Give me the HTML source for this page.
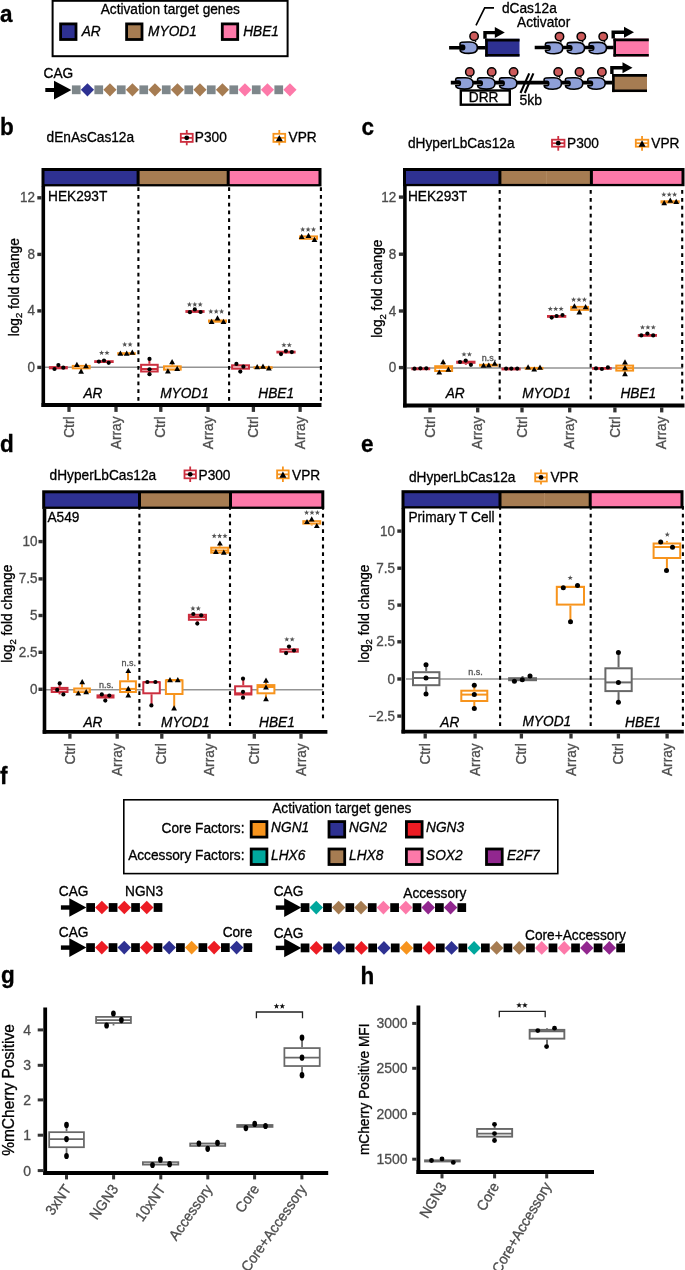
<!DOCTYPE html>
<html><head><meta charset="utf-8"><style>
html,body{margin:0;padding:0;background:#fff;overflow:hidden;}
svg{display:block;will-change:transform;}
text{font-family:"Liberation Sans", sans-serif;}
</style></head><body>
<svg width="685" height="1270" viewBox="0 0 685 1270">
<rect x="0" y="0" width="685" height="1270" fill="#fff"/>
<text transform="translate(0.00,21.50) scale(1,1.05)" font-size="22.5" text-anchor="start" fill="#000" stroke="#000" stroke-width="0.3" font-weight="bold" font-style="normal" >a</text>
<rect x="52.60" y="0.80" width="235.00" height="55.40" fill="none" stroke="#000" stroke-width="2" />
<text transform="translate(100.70,14.30) scale(1,1.05)" font-size="13.7" text-anchor="start" fill="#000" stroke="#000" stroke-width="0.3" font-weight="normal" font-style="normal" >Activation target genes</text>
<rect x="60.60" y="23.90" width="15.40" height="15.60" fill="#2e3192" stroke="#000" stroke-width="2.8" />
<text transform="translate(81.70,35.80) scale(1,1.05)" font-size="13.7" text-anchor="start" fill="#000" stroke="#000" stroke-width="0.3" font-weight="normal" font-style="italic" >AR</text>
<rect x="126.60" y="23.90" width="15.40" height="15.60" fill="#a67c52" stroke="#000" stroke-width="2.8" />
<text transform="translate(148.10,35.80) scale(1,1.05)" font-size="13.7" text-anchor="start" fill="#000" stroke="#000" stroke-width="0.3" font-weight="normal" font-style="italic" >MYOD1</text>
<rect x="222.30" y="23.90" width="15.40" height="15.60" fill="#fd79a9" stroke="#000" stroke-width="2.8" />
<text transform="translate(243.20,35.80) scale(1,1.05)" font-size="13.7" text-anchor="start" fill="#000" stroke="#000" stroke-width="0.3" font-weight="normal" font-style="italic" >HBE1</text>
<text transform="translate(43.50,77.50) scale(1,1.05)" font-size="13.7" text-anchor="start" fill="#000" stroke="#000" stroke-width="0.3" font-weight="normal" font-style="normal" >CAG</text>
<rect x="45.30" y="88.00" width="11.00" height="4.00" fill="#000" stroke="none" stroke-width="0" />
<path d="M54,80.7 L71.4,90 L54,99.4 Z" fill="#000"/>
<rect x="71.90" y="85.40" width="8.70" height="8.80" fill="#7e878b" stroke="none" stroke-width="0" />
<path d="M80.85,89.80 L87.45,83.20 L94.05,89.80 L87.45,96.40 Z" fill="#2e3192"/>
<rect x="94.40" y="85.40" width="8.70" height="8.80" fill="#7e878b" stroke="none" stroke-width="0" />
<path d="M103.35,89.80 L109.95,83.20 L116.55,89.80 L109.95,96.40 Z" fill="#a67c52"/>
<rect x="116.90" y="85.40" width="8.70" height="8.80" fill="#7e878b" stroke="none" stroke-width="0" />
<path d="M125.85,89.80 L132.45,83.20 L139.05,89.80 L132.45,96.40 Z" fill="#a67c52"/>
<rect x="139.40" y="85.40" width="8.70" height="8.80" fill="#7e878b" stroke="none" stroke-width="0" />
<path d="M148.35,89.80 L154.95,83.20 L161.55,89.80 L154.95,96.40 Z" fill="#a67c52"/>
<rect x="161.90" y="85.40" width="8.70" height="8.80" fill="#7e878b" stroke="none" stroke-width="0" />
<path d="M170.85,89.80 L177.45,83.20 L184.05,89.80 L177.45,96.40 Z" fill="#a67c52"/>
<rect x="184.40" y="85.40" width="8.70" height="8.80" fill="#7e878b" stroke="none" stroke-width="0" />
<path d="M193.35,89.80 L199.95,83.20 L206.55,89.80 L199.95,96.40 Z" fill="#a67c52"/>
<rect x="206.90" y="85.40" width="8.70" height="8.80" fill="#7e878b" stroke="none" stroke-width="0" />
<path d="M215.85,89.80 L222.45,83.20 L229.05,89.80 L222.45,96.40 Z" fill="#a67c52"/>
<rect x="229.40" y="85.40" width="8.70" height="8.80" fill="#7e878b" stroke="none" stroke-width="0" />
<path d="M238.35,89.80 L244.95,83.20 L251.55,89.80 L244.95,96.40 Z" fill="#fd79a9"/>
<rect x="251.90" y="85.40" width="8.70" height="8.80" fill="#7e878b" stroke="none" stroke-width="0" />
<path d="M260.85,89.80 L267.45,83.20 L274.05,89.80 L267.45,96.40 Z" fill="#fd79a9"/>
<rect x="274.40" y="85.40" width="8.70" height="8.80" fill="#7e878b" stroke="none" stroke-width="0" />
<path d="M283.35,89.80 L289.95,83.20 L296.55,89.80 L289.95,96.40 Z" fill="#fd79a9"/>
<text transform="translate(502.00,12.60) scale(1,1.05)" font-size="13.7" text-anchor="start" fill="#000" stroke="#000" stroke-width="0.3" font-weight="normal" font-style="normal" >dCas12a</text>
<text transform="translate(517.00,26.60) scale(1,1.05)" font-size="13.7" text-anchor="start" fill="#000" stroke="#000" stroke-width="0.3" font-weight="normal" font-style="normal" >Activator</text>
<path d="M476,25.4 L484.7,7.9 L494,7.9" fill="none" stroke="#000" stroke-width="1.6"/>
<line x1="449.10" y1="47.70" x2="486.00" y2="47.70" stroke="#000" stroke-width="3.6" />
<path d="M474.30,38.20 L475.80,42.00" stroke="#000" stroke-width="1.4" fill="none"/>
<circle cx="474.10" cy="36.20" r="4.2" fill="#cc5a5a" stroke="#000" stroke-width="1.5"/>
<path d="M460.00,43.80 C460.00,41.80 462.80,42.00 469.80,42.00 C475.80,42.00 477.40,44.70 477.40,47.70 C477.40,51.70 473.80,53.40 468.80,53.40 C462.80,53.40 460.00,52.20 460.00,49.80 L463.00,49.80 C465.20,49.80 465.20,45.40 463.00,45.40 L460.00,45.40 Z" fill="#8e9fd7" stroke="#000" stroke-width="1.6" stroke-linejoin="round"/>
<rect x="485.30" y="38.80" width="34.20" height="17.70" fill="#2e3192" stroke="none" stroke-width="0" />
<line x1="485.30" y1="40.10" x2="519.50" y2="40.10" stroke="#000" stroke-width="2.6" />
<line x1="485.30" y1="55.20" x2="519.50" y2="55.20" stroke="#000" stroke-width="2.6" />
<line x1="486.50" y1="38.80" x2="486.50" y2="56.50" stroke="#000" stroke-width="2.6" />
<path d="M485.00,38.80 L485.00,32.60 L495.30,32.60" fill="none" stroke="#000" stroke-width="3.4"/>
<path d="M494.80,27.10 L504.80,32.60 L494.80,38.10 Z" fill="#000"/>
<line x1="534.70" y1="47.50" x2="614.00" y2="47.50" stroke="#000" stroke-width="3.6" />
<path d="M559.70,38.60 L561.20,42.40" stroke="#000" stroke-width="1.4" fill="none"/>
<circle cx="559.50" cy="36.60" r="4.2" fill="#cc5a5a" stroke="#000" stroke-width="1.5"/>
<path d="M545.40,44.20 C545.40,42.20 548.20,42.40 555.20,42.40 C561.20,42.40 562.80,45.10 562.80,48.10 C562.80,52.10 559.20,53.80 554.20,53.80 C548.20,53.80 545.40,52.60 545.40,50.20 L548.40,50.20 C550.60,50.20 550.60,45.80 548.40,45.80 L545.40,45.80 Z" fill="#8e9fd7" stroke="#000" stroke-width="1.6" stroke-linejoin="round"/>
<path d="M581.50,38.60 L583.00,42.40" stroke="#000" stroke-width="1.4" fill="none"/>
<circle cx="581.30" cy="36.60" r="4.2" fill="#cc5a5a" stroke="#000" stroke-width="1.5"/>
<path d="M567.20,44.20 C567.20,42.20 570.00,42.40 577.00,42.40 C583.00,42.40 584.60,45.10 584.60,48.10 C584.60,52.10 581.00,53.80 576.00,53.80 C570.00,53.80 567.20,52.60 567.20,50.20 L570.20,50.20 C572.40,50.20 572.40,45.80 570.20,45.80 L567.20,45.80 Z" fill="#8e9fd7" stroke="#000" stroke-width="1.6" stroke-linejoin="round"/>
<path d="M603.40,38.60 L604.90,42.40" stroke="#000" stroke-width="1.4" fill="none"/>
<circle cx="603.20" cy="36.60" r="4.2" fill="#cc5a5a" stroke="#000" stroke-width="1.5"/>
<path d="M589.10,44.20 C589.10,42.20 591.90,42.40 598.90,42.40 C604.90,42.40 606.50,45.10 606.50,48.10 C606.50,52.10 602.90,53.80 597.90,53.80 C591.90,53.80 589.10,52.60 589.10,50.20 L592.10,50.20 C594.30,50.20 594.30,45.80 592.10,45.80 L589.10,45.80 Z" fill="#8e9fd7" stroke="#000" stroke-width="1.6" stroke-linejoin="round"/>
<rect x="613.50" y="38.60" width="35.30" height="18.00" fill="#fd79a9" stroke="none" stroke-width="0" />
<line x1="613.50" y1="39.90" x2="648.80" y2="39.90" stroke="#000" stroke-width="2.6" />
<line x1="613.50" y1="55.30" x2="648.80" y2="55.30" stroke="#000" stroke-width="2.6" />
<line x1="614.70" y1="38.60" x2="614.70" y2="56.60" stroke="#000" stroke-width="2.6" />
<path d="M613.20,38.60 L613.20,32.20 L624.50,32.20" fill="none" stroke="#000" stroke-width="3.4"/>
<path d="M624.00,26.70 L634.00,32.20 L624.00,37.70 Z" fill="#000"/>
<line x1="450.80" y1="82.60" x2="613.00" y2="82.60" stroke="#000" stroke-width="3.6" />
<line x1="520.50" y1="93.00" x2="529.20" y2="73.40" stroke="#000" stroke-width="2.1" />
<line x1="524.80" y1="93.00" x2="533.40" y2="73.40" stroke="#000" stroke-width="2.1" />
<rect x="460.80" y="90.50" width="49.00" height="14.20" fill="#fff" stroke="#000" stroke-width="2.4" />
<text transform="translate(483.60,101.90) scale(1,1.05)" font-size="13.7" text-anchor="middle" fill="#000" stroke="#000" stroke-width="0.3" font-weight="normal" font-style="normal" >DRR</text>
<path d="M470.00,73.90 L471.50,77.70" stroke="#000" stroke-width="1.4" fill="none"/>
<circle cx="469.80" cy="71.90" r="4.2" fill="#cc5a5a" stroke="#000" stroke-width="1.5"/>
<path d="M455.70,79.50 C455.70,77.50 458.50,77.70 465.50,77.70 C471.50,77.70 473.10,80.40 473.10,83.40 C473.10,87.40 469.50,89.10 464.50,89.10 C458.50,89.10 455.70,87.90 455.70,85.50 L458.70,85.50 C460.90,85.50 460.90,81.10 458.70,81.10 L455.70,81.10 Z" fill="#8e9fd7" stroke="#000" stroke-width="1.6" stroke-linejoin="round"/>
<path d="M491.90,73.90 L493.40,77.70" stroke="#000" stroke-width="1.4" fill="none"/>
<circle cx="491.70" cy="71.90" r="4.2" fill="#cc5a5a" stroke="#000" stroke-width="1.5"/>
<path d="M477.60,79.50 C477.60,77.50 480.40,77.70 487.40,77.70 C493.40,77.70 495.00,80.40 495.00,83.40 C495.00,87.40 491.40,89.10 486.40,89.10 C480.40,89.10 477.60,87.90 477.60,85.50 L480.60,85.50 C482.80,85.50 482.80,81.10 480.60,81.10 L477.60,81.10 Z" fill="#8e9fd7" stroke="#000" stroke-width="1.6" stroke-linejoin="round"/>
<path d="M513.80,73.90 L515.30,77.70" stroke="#000" stroke-width="1.4" fill="none"/>
<circle cx="513.60" cy="71.90" r="4.2" fill="#cc5a5a" stroke="#000" stroke-width="1.5"/>
<path d="M499.50,79.50 C499.50,77.50 502.30,77.70 509.30,77.70 C515.30,77.70 516.90,80.40 516.90,83.40 C516.90,87.40 513.30,89.10 508.30,89.10 C502.30,89.10 499.50,87.90 499.50,85.50 L502.50,85.50 C504.70,85.50 504.70,81.10 502.50,81.10 L499.50,81.10 Z" fill="#8e9fd7" stroke="#000" stroke-width="1.6" stroke-linejoin="round"/>
<text transform="translate(519.50,105.30) scale(1,1.05)" font-size="14" text-anchor="start" fill="#000" stroke="#000" stroke-width="0.3" font-weight="normal" font-style="normal" >5kb</text>
<path d="M558.40,74.00 L559.90,77.80" stroke="#000" stroke-width="1.4" fill="none"/>
<circle cx="558.20" cy="72.00" r="4.2" fill="#cc5a5a" stroke="#000" stroke-width="1.5"/>
<path d="M544.10,79.60 C544.10,77.60 546.90,77.80 553.90,77.80 C559.90,77.80 561.50,80.50 561.50,83.50 C561.50,87.50 557.90,89.20 552.90,89.20 C546.90,89.20 544.10,88.00 544.10,85.60 L547.10,85.60 C549.30,85.60 549.30,81.20 547.10,81.20 L544.10,81.20 Z" fill="#8e9fd7" stroke="#000" stroke-width="1.6" stroke-linejoin="round"/>
<path d="M579.70,74.00 L581.20,77.80" stroke="#000" stroke-width="1.4" fill="none"/>
<circle cx="579.50" cy="72.00" r="4.2" fill="#cc5a5a" stroke="#000" stroke-width="1.5"/>
<path d="M565.40,79.60 C565.40,77.60 568.20,77.80 575.20,77.80 C581.20,77.80 582.80,80.50 582.80,83.50 C582.80,87.50 579.20,89.20 574.20,89.20 C568.20,89.20 565.40,88.00 565.40,85.60 L568.40,85.60 C570.60,85.60 570.60,81.20 568.40,81.20 L565.40,81.20 Z" fill="#8e9fd7" stroke="#000" stroke-width="1.6" stroke-linejoin="round"/>
<path d="M602.10,74.00 L603.60,77.80" stroke="#000" stroke-width="1.4" fill="none"/>
<circle cx="601.90" cy="72.00" r="4.2" fill="#cc5a5a" stroke="#000" stroke-width="1.5"/>
<path d="M587.80,79.60 C587.80,77.60 590.60,77.80 597.60,77.80 C603.60,77.80 605.20,80.50 605.20,83.50 C605.20,87.50 601.60,89.20 596.60,89.20 C590.60,89.20 587.80,88.00 587.80,85.60 L590.80,85.60 C593.00,85.60 593.00,81.20 590.80,81.20 L587.80,81.20 Z" fill="#8e9fd7" stroke="#000" stroke-width="1.6" stroke-linejoin="round"/>
<rect x="612.20" y="74.10" width="34.80" height="18.00" fill="#a67c52" stroke="none" stroke-width="0" />
<line x1="612.20" y1="75.40" x2="647.00" y2="75.40" stroke="#000" stroke-width="2.6" />
<line x1="612.20" y1="90.80" x2="647.00" y2="90.80" stroke="#000" stroke-width="2.6" />
<line x1="613.40" y1="74.10" x2="613.40" y2="92.10" stroke="#000" stroke-width="2.6" />
<path d="M611.90,74.10 L611.90,67.80 L623.00,67.80" fill="none" stroke="#000" stroke-width="3.4"/>
<path d="M622.50,62.30 L632.50,67.80 L622.50,73.30 Z" fill="#000"/>
<text transform="translate(0.00,134.80) scale(1,1.05)" font-size="22.5" text-anchor="start" fill="#000" stroke="#000" stroke-width="0.3" font-weight="bold" font-style="normal" >b</text>
<text transform="translate(46.60,142.30) scale(1,1.05)" font-size="13.7" text-anchor="start" fill="#000" stroke="#000" stroke-width="0.3" font-weight="normal" font-style="normal" >dEnAsCas12a</text>
<line x1="186.75" y1="130.00" x2="186.75" y2="145.30" stroke="#cc2f3f" stroke-width="1.8" />
<rect x="180.80" y="133.80" width="11.90" height="8.10" fill="#fff" stroke="#cc2f3f" stroke-width="1.8" />
<line x1="180.80" y1="137.85" x2="192.70" y2="137.85" stroke="#cc2f3f" stroke-width="1.8" />
<circle cx="186.75" cy="137.85" r="2.4" fill="#000" />
<text transform="translate(194.80,142.30) scale(1,1.05)" font-size="13.7" text-anchor="start" fill="#000" stroke="#000" stroke-width="0.3" font-weight="normal" font-style="normal" >P300</text>
<line x1="279.30" y1="130.00" x2="279.30" y2="145.30" stroke="#f7941d" stroke-width="1.8" />
<rect x="273.40" y="133.80" width="11.80" height="8.10" fill="#fff" stroke="#f7941d" stroke-width="1.8" />
<line x1="273.40" y1="137.85" x2="285.20" y2="137.85" stroke="#f7941d" stroke-width="1.8" />
<path d="M275.80,141.30 L282.80,141.30 L279.30,135.00 Z" fill="#000"/>
<text transform="translate(288.60,142.30) scale(1,1.05)" font-size="13.7" text-anchor="start" fill="#000" stroke="#000" stroke-width="0.3" font-weight="normal" font-style="normal" >VPR</text>
<rect x="41.50" y="168.00" width="280.00" height="18.40" fill="#000" stroke="none" stroke-width="0" />
<rect x="44.50" y="171.00" width="92.10" height="13.10" fill="#2e3192" stroke="none" stroke-width="0" />
<rect x="139.60" y="171.00" width="87.10" height="13.10" fill="#a67c52" stroke="none" stroke-width="0" />
<rect x="229.70" y="171.00" width="88.80" height="13.10" fill="#fd79a9" stroke="none" stroke-width="0" />
<line x1="45.00" y1="367.20" x2="321.00" y2="367.20" stroke="#939393" stroke-width="1.6" />
<line x1="138.40" y1="187.20" x2="138.40" y2="401.00" stroke="#000" stroke-width="2.1" stroke-dasharray="3.8,3.97"/>
<line x1="229.10" y1="187.20" x2="229.10" y2="401.00" stroke="#000" stroke-width="2.1" stroke-dasharray="3.8,3.97"/>
<line x1="320.90" y1="187.20" x2="320.90" y2="401.00" stroke="#000" stroke-width="2.1" stroke-dasharray="3.8,3.97"/>
<line x1="43.30" y1="185.90" x2="43.30" y2="406.90" stroke="#000" stroke-width="3.6" />
<line x1="41.50" y1="405.00" x2="321.50" y2="405.00" stroke="#000" stroke-width="3.8" />
<line x1="37.30" y1="197.80" x2="41.50" y2="197.80" stroke="#333333" stroke-width="3.4" />
<text transform="translate(34.90,202.30) scale(1,1.05)" font-size="13.5" text-anchor="end" fill="#4d4d4d" stroke="#4d4d4d" stroke-width="0.3" font-weight="normal" font-style="normal" >12</text>
<line x1="37.30" y1="254.40" x2="41.50" y2="254.40" stroke="#333333" stroke-width="3.4" />
<text transform="translate(34.90,258.90) scale(1,1.05)" font-size="13.5" text-anchor="end" fill="#4d4d4d" stroke="#4d4d4d" stroke-width="0.3" font-weight="normal" font-style="normal" >8</text>
<line x1="37.30" y1="310.90" x2="41.50" y2="310.90" stroke="#333333" stroke-width="3.4" />
<text transform="translate(34.90,315.40) scale(1,1.05)" font-size="13.5" text-anchor="end" fill="#4d4d4d" stroke="#4d4d4d" stroke-width="0.3" font-weight="normal" font-style="normal" >4</text>
<line x1="37.30" y1="367.40" x2="41.50" y2="367.40" stroke="#333333" stroke-width="3.4" />
<text transform="translate(34.90,371.90) scale(1,1.05)" font-size="13.5" text-anchor="end" fill="#4d4d4d" stroke="#4d4d4d" stroke-width="0.3" font-weight="normal" font-style="normal" >0</text>
<line x1="69.00" y1="406.90" x2="69.00" y2="411.90" stroke="#333333" stroke-width="3.3" />
<text transform="translate(73.60,416.50) rotate(-90) scale(1,1.05)" font-size="13.7" text-anchor="end" fill="#4d4d4d" stroke="#4d4d4d" stroke-width="0.3">Ctrl</text>
<line x1="116.00" y1="406.90" x2="116.00" y2="411.90" stroke="#333333" stroke-width="3.3" />
<text transform="translate(120.60,416.50) rotate(-90) scale(1,1.05)" font-size="13.7" text-anchor="end" fill="#4d4d4d" stroke="#4d4d4d" stroke-width="0.3">Array</text>
<line x1="160.80" y1="406.90" x2="160.80" y2="411.90" stroke="#333333" stroke-width="3.3" />
<text transform="translate(165.40,416.50) rotate(-90) scale(1,1.05)" font-size="13.7" text-anchor="end" fill="#4d4d4d" stroke="#4d4d4d" stroke-width="0.3">Ctrl</text>
<line x1="208.00" y1="406.90" x2="208.00" y2="411.90" stroke="#333333" stroke-width="3.3" />
<text transform="translate(212.60,416.50) rotate(-90) scale(1,1.05)" font-size="13.7" text-anchor="end" fill="#4d4d4d" stroke="#4d4d4d" stroke-width="0.3">Array</text>
<line x1="253.40" y1="406.90" x2="253.40" y2="411.90" stroke="#333333" stroke-width="3.3" />
<text transform="translate(258.00,416.50) rotate(-90) scale(1,1.05)" font-size="13.7" text-anchor="end" fill="#4d4d4d" stroke="#4d4d4d" stroke-width="0.3">Ctrl</text>
<line x1="300.10" y1="406.90" x2="300.10" y2="411.90" stroke="#333333" stroke-width="3.3" />
<text transform="translate(304.70,416.50) rotate(-90) scale(1,1.05)" font-size="13.7" text-anchor="end" fill="#4d4d4d" stroke="#4d4d4d" stroke-width="0.3">Array</text>
<text transform="translate(48.00,200.50) scale(1,1.05)" font-size="13.7" text-anchor="start" fill="#000" stroke="#000" stroke-width="0.3" font-weight="normal" font-style="normal" >HEK293T</text>
<text transform="translate(93.00,398.10) scale(1,1.05)" font-size="13.7" text-anchor="middle" fill="#000" stroke="#000" stroke-width="0.3" font-weight="normal" font-style="italic" >AR</text>
<text transform="translate(184.50,398.10) scale(1,1.05)" font-size="13.7" text-anchor="middle" fill="#000" stroke="#000" stroke-width="0.3" font-weight="normal" font-style="italic" >MYOD1</text>
<text transform="translate(276.20,398.10) scale(1,1.05)" font-size="13.7" text-anchor="middle" fill="#000" stroke="#000" stroke-width="0.3" font-weight="normal" font-style="italic" >HBE1</text>
<text transform="translate(18.70,287.30) rotate(-90) scale(1,1.05)" font-size="13.7" text-anchor="middle" fill="#000" stroke="#000" stroke-width="0.3">log<tspan font-size="9.5" dy="3.5">2</tspan><tspan dy="-3.5"> fold change</tspan></text>
<line x1="58.35" y1="365.10" x2="58.35" y2="366.10" stroke="#cc2f3f" stroke-width="2.0" />
<rect x="48.90" y="366.10" width="18.90" height="3.20" fill="#cc2f3f" stroke="none" stroke-width="0" />
<circle cx="54.50" cy="369.00" r="2.1" fill="#000" />
<circle cx="58.40" cy="365.10" r="2.1" fill="#000" />
<circle cx="63.30" cy="367.70" r="2.1" fill="#000" />
<line x1="81.25" y1="369.30" x2="81.25" y2="371.20" stroke="#f7941d" stroke-width="2.0" />
<rect x="71.80" y="364.90" width="18.90" height="4.40" fill="#f7941d" stroke="none" stroke-width="0" />
<rect x="73.80" y="366.60" width="14.90" height="1.00" fill="#fbce99" stroke="none" stroke-width="0" />
<path d="M74.00,367.01 L79.80,367.01 L76.90,361.79 Z" fill="#000"/>
<path d="M78.20,373.81 L84.00,373.81 L81.10,368.59 Z" fill="#000"/>
<path d="M83.10,368.21 L88.90,368.21 L86.00,362.99 Z" fill="#000"/>
<rect x="94.20" y="360.20" width="19.50" height="2.80" fill="#cc2f3f" stroke="none" stroke-width="0" />
<circle cx="98.90" cy="361.60" r="2.1" fill="#000" />
<circle cx="104.00" cy="360.50" r="2.1" fill="#000" />
<circle cx="108.70" cy="362.80" r="2.1" fill="#000" />
<rect x="117.20" y="352.20" width="18.60" height="2.80" fill="#f7941d" stroke="none" stroke-width="0" />
<path d="M117.50,355.81 L123.30,355.81 L120.40,350.59 Z" fill="#000"/>
<path d="M123.80,355.81 L129.60,355.81 L126.70,350.59 Z" fill="#000"/>
<path d="M129.40,354.71 L135.20,354.71 L132.30,349.49 Z" fill="#000"/>
<line x1="149.40" y1="358.90" x2="149.40" y2="363.80" stroke="#cc2f3f" stroke-width="2.0" />
<line x1="149.40" y1="372.50" x2="149.40" y2="374.20" stroke="#cc2f3f" stroke-width="2.0" />
<rect x="141.10" y="364.80" width="16.60" height="6.70" fill="#fff" stroke="#cc2f3f" stroke-width="2.0" />
<line x1="141.10" y1="369.00" x2="157.70" y2="369.00" stroke="#cc2f3f" stroke-width="2.0" />
<circle cx="149.50" cy="358.90" r="2.1" fill="#000" />
<circle cx="149.50" cy="369.30" r="2.1" fill="#000" />
<circle cx="149.50" cy="374.20" r="2.1" fill="#000" />
<line x1="172.35" y1="361.60" x2="172.35" y2="365.30" stroke="#f7941d" stroke-width="2.0" />
<rect x="163.00" y="365.30" width="18.70" height="5.30" fill="#f7941d" stroke="none" stroke-width="0" />
<rect x="165.00" y="367.00" width="14.70" height="1.90" fill="#fbce99" stroke="none" stroke-width="0" />
<path d="M165.00,373.41 L170.80,373.41 L167.90,368.19 Z" fill="#000"/>
<path d="M169.20,364.21 L175.00,364.21 L172.10,358.99 Z" fill="#000"/>
<path d="M174.30,370.91 L180.10,370.91 L177.20,365.69 Z" fill="#000"/>
<line x1="195.00" y1="309.40" x2="195.00" y2="310.10" stroke="#cc2f3f" stroke-width="2.0" />
<rect x="185.40" y="310.10" width="19.20" height="2.80" fill="#cc2f3f" stroke="none" stroke-width="0" />
<circle cx="189.90" cy="312.20" r="2.1" fill="#000" />
<circle cx="194.80" cy="309.40" r="2.1" fill="#000" />
<circle cx="200.60" cy="312.00" r="2.1" fill="#000" />
<line x1="217.50" y1="317.80" x2="217.50" y2="319.50" stroke="#f7941d" stroke-width="2.0" />
<rect x="208.00" y="319.50" width="19.00" height="3.20" fill="#f7941d" stroke="none" stroke-width="0" />
<path d="M208.70,323.91 L214.50,323.91 L211.60,318.69 Z" fill="#000"/>
<path d="M214.60,320.41 L220.40,320.41 L217.50,315.19 Z" fill="#000"/>
<path d="M220.60,323.91 L226.40,323.91 L223.50,318.69 Z" fill="#000"/>
<line x1="240.55" y1="369.70" x2="240.55" y2="371.60" stroke="#cc2f3f" stroke-width="2.0" />
<rect x="231.10" y="364.30" width="18.90" height="5.40" fill="#cc2f3f" stroke="none" stroke-width="0" />
<rect x="233.10" y="366.00" width="14.90" height="2.00" fill="#e8a1a8" stroke="none" stroke-width="0" />
<circle cx="236.40" cy="363.90" r="2.1" fill="#000" />
<circle cx="240.30" cy="371.60" r="2.1" fill="#000" />
<circle cx="243.40" cy="366.70" r="2.1" fill="#000" />
<rect x="253.50" y="366.20" width="19.10" height="2.80" fill="#f7941d" stroke="none" stroke-width="0" />
<path d="M254.30,369.31 L260.10,369.31 L257.20,364.09 Z" fill="#000"/>
<path d="M260.10,368.81 L265.90,368.81 L263.00,363.59 Z" fill="#000"/>
<path d="M266.00,370.41 L271.80,370.41 L268.90,365.19 Z" fill="#000"/>
<line x1="286.00" y1="353.50" x2="286.00" y2="354.10" stroke="#cc2f3f" stroke-width="2.0" />
<rect x="276.40" y="350.70" width="19.20" height="2.80" fill="#cc2f3f" stroke="none" stroke-width="0" />
<circle cx="281.00" cy="354.10" r="2.1" fill="#000" />
<circle cx="285.90" cy="351.00" r="2.1" fill="#000" />
<circle cx="291.80" cy="352.10" r="2.1" fill="#000" />
<rect x="299.10" y="235.40" width="18.90" height="4.40" fill="#f7941d" stroke="none" stroke-width="0" />
<rect x="301.10" y="237.10" width="14.90" height="1.00" fill="#fbce99" stroke="none" stroke-width="0" />
<path d="M298.80,238.91 L304.60,238.91 L301.70,233.69 Z" fill="#000"/>
<path d="M305.60,238.01 L311.40,238.01 L308.50,232.79 Z" fill="#000"/>
<path d="M311.60,241.91 L317.40,241.91 L314.50,236.69 Z" fill="#000"/>
<path d="M101.60,350.15 L102.28,351.97 L104.22,352.05 L102.70,353.26 L103.22,355.12 L101.60,354.05 L99.98,355.12 L100.50,353.26 L98.98,352.05 L100.92,351.97 Z M107.00,350.15 L107.68,351.97 L109.62,352.05 L108.10,353.26 L108.62,355.12 L107.00,354.05 L105.38,355.12 L105.90,353.26 L104.38,352.05 L106.32,351.97 Z" fill="#555"/>
<path d="M124.70,341.75 L125.38,343.57 L127.32,343.65 L125.80,344.86 L126.32,346.72 L124.70,345.65 L123.08,346.72 L123.60,344.86 L122.08,343.65 L124.02,343.57 Z M130.10,341.75 L130.78,343.57 L132.72,343.65 L131.20,344.86 L131.72,346.72 L130.10,345.65 L128.48,346.72 L129.00,344.86 L127.48,343.65 L129.42,343.57 Z" fill="#555"/>
<path d="M189.40,301.75 L190.08,303.57 L192.02,303.65 L190.50,304.86 L191.02,306.72 L189.40,305.65 L187.78,306.72 L188.30,304.86 L186.78,303.65 L188.72,303.57 Z M194.80,301.75 L195.48,303.57 L197.42,303.65 L195.90,304.86 L196.42,306.72 L194.80,305.65 L193.18,306.72 L193.70,304.86 L192.18,303.65 L194.12,303.57 Z M200.20,301.75 L200.88,303.57 L202.82,303.65 L201.30,304.86 L201.82,306.72 L200.20,305.65 L198.58,306.72 L199.10,304.86 L197.58,303.65 L199.52,303.57 Z" fill="#555"/>
<path d="M210.80,308.75 L211.48,310.57 L213.42,310.65 L211.90,311.86 L212.42,313.72 L210.80,312.65 L209.18,313.72 L209.70,311.86 L208.18,310.65 L210.12,310.57 Z M216.20,308.75 L216.88,310.57 L218.82,310.65 L217.30,311.86 L217.82,313.72 L216.20,312.65 L214.58,313.72 L215.10,311.86 L213.58,310.65 L215.52,310.57 Z M221.60,308.75 L222.28,310.57 L224.22,310.65 L222.70,311.86 L223.22,313.72 L221.60,312.65 L219.98,313.72 L220.50,311.86 L218.98,310.65 L220.92,310.57 Z" fill="#555"/>
<path d="M283.90,342.35 L284.58,344.17 L286.52,344.25 L285.00,345.46 L285.52,347.32 L283.90,346.25 L282.28,347.32 L282.80,345.46 L281.28,344.25 L283.22,344.17 Z M289.30,342.35 L289.98,344.17 L291.92,344.25 L290.40,345.46 L290.92,347.32 L289.30,346.25 L287.68,347.32 L288.20,345.46 L286.68,344.25 L288.62,344.17 Z" fill="#555"/>
<path d="M302.70,226.75 L303.38,228.57 L305.32,228.65 L303.80,229.86 L304.32,231.72 L302.70,230.66 L301.08,231.72 L301.60,229.86 L300.08,228.65 L302.02,228.57 Z M308.10,226.75 L308.78,228.57 L310.72,228.65 L309.20,229.86 L309.72,231.72 L308.10,230.66 L306.48,231.72 L307.00,229.86 L305.48,228.65 L307.42,228.57 Z M313.50,226.75 L314.18,228.57 L316.12,228.65 L314.60,229.86 L315.12,231.72 L313.50,230.66 L311.88,231.72 L312.40,229.86 L310.88,228.65 L312.82,228.57 Z" fill="#555"/>
<text transform="translate(361.50,134.70) scale(1,1.05)" font-size="22.5" text-anchor="start" fill="#000" stroke="#000" stroke-width="0.3" font-weight="bold" font-style="normal" >c</text>
<text transform="translate(408.00,148.00) scale(1,1.05)" font-size="13.7" text-anchor="start" fill="#000" stroke="#000" stroke-width="0.3" font-weight="normal" font-style="normal" >dHyperLbCas12a</text>
<line x1="558.25" y1="136.00" x2="558.25" y2="150.70" stroke="#cc2f3f" stroke-width="1.8" />
<rect x="552.00" y="139.70" width="12.50" height="7.00" fill="#fff" stroke="#cc2f3f" stroke-width="1.8" />
<line x1="552.00" y1="143.20" x2="564.50" y2="143.20" stroke="#cc2f3f" stroke-width="1.8" />
<circle cx="558.25" cy="143.20" r="2.4" fill="#000" />
<text transform="translate(567.00,148.00) scale(1,1.05)" font-size="13.7" text-anchor="start" fill="#000" stroke="#000" stroke-width="0.3" font-weight="normal" font-style="normal" >P300</text>
<line x1="642.05" y1="136.00" x2="642.05" y2="150.70" stroke="#f7941d" stroke-width="1.8" />
<rect x="635.80" y="139.70" width="12.50" height="7.00" fill="#fff" stroke="#f7941d" stroke-width="1.8" />
<line x1="635.80" y1="143.20" x2="648.30" y2="143.20" stroke="#f7941d" stroke-width="1.8" />
<path d="M638.55,146.65 L645.55,146.65 L642.05,140.35 Z" fill="#000"/>
<text transform="translate(651.30,148.00) scale(1,1.05)" font-size="13.7" text-anchor="start" fill="#000" stroke="#000" stroke-width="0.3" font-weight="normal" font-style="normal" >VPR</text>
<rect x="403.00" y="168.00" width="281.50" height="18.20" fill="#000" stroke="none" stroke-width="0" />
<rect x="406.00" y="171.00" width="92.40" height="12.90" fill="#2e3192" stroke="none" stroke-width="0" />
<rect x="501.40" y="171.00" width="88.50" height="12.90" fill="#a67c52" stroke="none" stroke-width="0" />
<rect x="592.90" y="171.00" width="88.60" height="12.90" fill="#fd79a9" stroke="none" stroke-width="0" />
<line x1="546.40" y1="171.00" x2="546.40" y2="183.90" stroke="#b48c64" stroke-width="0.8" />
<line x1="407.00" y1="368.00" x2="683.00" y2="368.00" stroke="#939393" stroke-width="1.6" />
<line x1="499.70" y1="190.00" x2="499.70" y2="401.50" stroke="#000" stroke-width="2.1" stroke-dasharray="3.8,4.10"/>
<line x1="590.70" y1="190.00" x2="590.70" y2="401.50" stroke="#000" stroke-width="2.1" stroke-dasharray="3.8,4.10"/>
<line x1="682.20" y1="190.00" x2="682.20" y2="401.50" stroke="#000" stroke-width="2.1" stroke-dasharray="3.8,4.10"/>
<line x1="404.90" y1="185.70" x2="404.90" y2="407.40" stroke="#000" stroke-width="3.6" />
<line x1="403.10" y1="405.50" x2="684.50" y2="405.50" stroke="#000" stroke-width="3.8" />
<line x1="398.90" y1="197.10" x2="403.10" y2="197.10" stroke="#333333" stroke-width="3.4" />
<text transform="translate(396.30,201.60) scale(1,1.05)" font-size="13.5" text-anchor="end" fill="#4d4d4d" stroke="#4d4d4d" stroke-width="0.3" font-weight="normal" font-style="normal" >12</text>
<line x1="398.90" y1="254.20" x2="403.10" y2="254.20" stroke="#333333" stroke-width="3.4" />
<text transform="translate(396.30,258.70) scale(1,1.05)" font-size="13.5" text-anchor="end" fill="#4d4d4d" stroke="#4d4d4d" stroke-width="0.3" font-weight="normal" font-style="normal" >8</text>
<line x1="398.90" y1="311.00" x2="403.10" y2="311.00" stroke="#333333" stroke-width="3.4" />
<text transform="translate(396.30,315.50) scale(1,1.05)" font-size="13.5" text-anchor="end" fill="#4d4d4d" stroke="#4d4d4d" stroke-width="0.3" font-weight="normal" font-style="normal" >4</text>
<line x1="398.90" y1="367.60" x2="403.10" y2="367.60" stroke="#333333" stroke-width="3.4" />
<text transform="translate(396.30,372.10) scale(1,1.05)" font-size="13.5" text-anchor="end" fill="#4d4d4d" stroke="#4d4d4d" stroke-width="0.3" font-weight="normal" font-style="normal" >0</text>
<line x1="430.00" y1="407.40" x2="430.00" y2="412.40" stroke="#333333" stroke-width="3.3" />
<text transform="translate(434.60,416.50) rotate(-90) scale(1,1.05)" font-size="13.7" text-anchor="end" fill="#4d4d4d" stroke="#4d4d4d" stroke-width="0.3">Ctrl</text>
<line x1="477.70" y1="407.40" x2="477.70" y2="412.40" stroke="#333333" stroke-width="3.3" />
<text transform="translate(482.30,416.50) rotate(-90) scale(1,1.05)" font-size="13.7" text-anchor="end" fill="#4d4d4d" stroke="#4d4d4d" stroke-width="0.3">Array</text>
<line x1="522.00" y1="407.40" x2="522.00" y2="412.40" stroke="#333333" stroke-width="3.3" />
<text transform="translate(526.60,416.50) rotate(-90) scale(1,1.05)" font-size="13.7" text-anchor="end" fill="#4d4d4d" stroke="#4d4d4d" stroke-width="0.3">Ctrl</text>
<line x1="569.70" y1="407.40" x2="569.70" y2="412.40" stroke="#333333" stroke-width="3.3" />
<text transform="translate(574.30,416.50) rotate(-90) scale(1,1.05)" font-size="13.7" text-anchor="end" fill="#4d4d4d" stroke="#4d4d4d" stroke-width="0.3">Array</text>
<line x1="614.90" y1="407.40" x2="614.90" y2="412.40" stroke="#333333" stroke-width="3.3" />
<text transform="translate(619.50,416.50) rotate(-90) scale(1,1.05)" font-size="13.7" text-anchor="end" fill="#4d4d4d" stroke="#4d4d4d" stroke-width="0.3">Ctrl</text>
<line x1="661.70" y1="407.40" x2="661.70" y2="412.40" stroke="#333333" stroke-width="3.3" />
<text transform="translate(666.30,416.50) rotate(-90) scale(1,1.05)" font-size="13.7" text-anchor="end" fill="#4d4d4d" stroke="#4d4d4d" stroke-width="0.3">Array</text>
<text transform="translate(407.90,200.50) scale(1,1.05)" font-size="13.7" text-anchor="start" fill="#000" stroke="#000" stroke-width="0.3" font-weight="normal" font-style="normal" >HEK293T</text>
<text transform="translate(455.20,398.10) scale(1,1.05)" font-size="13.7" text-anchor="middle" fill="#000" stroke="#000" stroke-width="0.3" font-weight="normal" font-style="italic" >AR</text>
<text transform="translate(546.50,398.10) scale(1,1.05)" font-size="13.7" text-anchor="middle" fill="#000" stroke="#000" stroke-width="0.3" font-weight="normal" font-style="italic" >MYOD1</text>
<text transform="translate(638.30,398.10) scale(1,1.05)" font-size="13.7" text-anchor="middle" fill="#000" stroke="#000" stroke-width="0.3" font-weight="normal" font-style="italic" >HBE1</text>
<text transform="translate(382.00,288.70) rotate(-90) scale(1,1.05)" font-size="13.7" text-anchor="middle" fill="#000" stroke="#000" stroke-width="0.3">log<tspan font-size="9.5" dy="3.5">2</tspan><tspan dy="-3.5"> fold change</tspan></text>
<rect x="411.30" y="367.40" width="18.90" height="2.80" fill="#cc2f3f" stroke="none" stroke-width="0" />
<circle cx="414.50" cy="368.70" r="2.1" fill="#000" />
<circle cx="420.40" cy="368.30" r="2.1" fill="#000" />
<circle cx="426.30" cy="368.30" r="2.1" fill="#000" />
<line x1="443.65" y1="361.70" x2="443.65" y2="365.20" stroke="#f7941d" stroke-width="2.0" />
<rect x="435.20" y="366.20" width="16.90" height="4.80" fill="#fff" stroke="#f7941d" stroke-width="2.0" />
<line x1="435.20" y1="367.80" x2="452.10" y2="367.80" stroke="#f7941d" stroke-width="2.0" />
<path d="M436.40,374.61 L442.20,374.61 L439.30,369.39 Z" fill="#000"/>
<path d="M440.20,364.31 L446.00,364.31 L443.10,359.09 Z" fill="#000"/>
<path d="M445.50,371.81 L451.30,371.81 L448.40,366.59 Z" fill="#000"/>
<line x1="465.85" y1="363.80" x2="465.85" y2="364.80" stroke="#cc2f3f" stroke-width="2.0" />
<rect x="456.20" y="360.70" width="19.30" height="3.10" fill="#cc2f3f" stroke="none" stroke-width="0" />
<circle cx="460.00" cy="362.00" r="2.1" fill="#000" />
<circle cx="465.70" cy="360.60" r="2.1" fill="#000" />
<circle cx="470.90" cy="364.80" r="2.1" fill="#000" />
<line x1="488.60" y1="363.10" x2="488.60" y2="363.80" stroke="#f7941d" stroke-width="2.0" />
<rect x="479.00" y="363.80" width="19.20" height="2.80" fill="#f7941d" stroke="none" stroke-width="0" />
<path d="M480.60,367.81 L486.40,367.81 L483.50,362.59 Z" fill="#000"/>
<path d="M485.90,367.61 L491.70,367.61 L488.80,362.39 Z" fill="#000"/>
<path d="M491.80,365.71 L497.60,365.71 L494.70,360.49 Z" fill="#000"/>
<rect x="501.50" y="367.60" width="19.20" height="2.80" fill="#cc2f3f" stroke="none" stroke-width="0" />
<circle cx="506.10" cy="368.60" r="2.1" fill="#000" />
<circle cx="511.30" cy="368.60" r="2.1" fill="#000" />
<circle cx="517.20" cy="368.60" r="2.1" fill="#000" />
<rect x="524.60" y="366.90" width="18.90" height="2.80" fill="#f7941d" stroke="none" stroke-width="0" />
<path d="M525.20,369.51 L531.00,369.51 L528.10,364.29 Z" fill="#000"/>
<path d="M531.30,371.61 L537.10,371.61 L534.20,366.39 Z" fill="#000"/>
<path d="M537.10,369.81 L542.90,369.81 L540.00,364.59 Z" fill="#000"/>
<rect x="547.00" y="315.00" width="19.30" height="2.80" fill="#cc2f3f" stroke="none" stroke-width="0" />
<circle cx="551.70" cy="317.60" r="2.1" fill="#000" />
<circle cx="556.60" cy="316.00" r="2.1" fill="#000" />
<circle cx="562.50" cy="315.00" r="2.1" fill="#000" />
<line x1="579.65" y1="310.90" x2="579.65" y2="311.80" stroke="#f7941d" stroke-width="2.0" />
<rect x="570.20" y="305.90" width="18.90" height="5.00" fill="#f7941d" stroke="none" stroke-width="0" />
<rect x="572.20" y="307.60" width="14.90" height="1.60" fill="#fbce99" stroke="none" stroke-width="0" />
<path d="M571.50,308.51 L577.30,308.51 L574.40,303.29 Z" fill="#000"/>
<path d="M576.40,314.41 L582.20,314.41 L579.30,309.19 Z" fill="#000"/>
<path d="M582.70,309.21 L588.50,309.21 L585.60,303.99 Z" fill="#000"/>
<rect x="592.10" y="367.00" width="19.60" height="2.80" fill="#cc2f3f" stroke="none" stroke-width="0" />
<circle cx="596.00" cy="368.40" r="2.1" fill="#000" />
<circle cx="601.90" cy="369.00" r="2.1" fill="#000" />
<circle cx="607.90" cy="367.40" r="2.1" fill="#000" />
<line x1="624.70" y1="361.80" x2="624.70" y2="364.60" stroke="#f7941d" stroke-width="2.0" />
<line x1="624.70" y1="371.60" x2="624.70" y2="373.70" stroke="#f7941d" stroke-width="2.0" />
<rect x="616.30" y="365.60" width="16.80" height="5.00" fill="#fff" stroke="#f7941d" stroke-width="2.0" />
<line x1="616.30" y1="368.10" x2="633.10" y2="368.10" stroke="#f7941d" stroke-width="2.0" />
<path d="M622.10,364.41 L627.90,364.41 L625.00,359.19 Z" fill="#000"/>
<path d="M622.10,370.31 L627.90,370.31 L625.00,365.09 Z" fill="#000"/>
<path d="M622.10,376.31 L627.90,376.31 L625.00,371.09 Z" fill="#000"/>
<rect x="637.80" y="334.00" width="19.20" height="2.80" fill="#cc2f3f" stroke="none" stroke-width="0" />
<circle cx="641.30" cy="335.40" r="2.1" fill="#000" />
<circle cx="647.40" cy="333.60" r="2.1" fill="#000" />
<circle cx="653.20" cy="335.40" r="2.1" fill="#000" />
<rect x="660.50" y="200.30" width="19.20" height="3.20" fill="#f7941d" stroke="none" stroke-width="0" />
<path d="M661.30,205.21 L667.10,205.21 L664.20,199.99 Z" fill="#000"/>
<path d="M667.40,202.71 L673.20,202.71 L670.30,197.49 Z" fill="#000"/>
<path d="M673.30,203.91 L679.10,203.91 L676.20,198.69 Z" fill="#000"/>
<path d="M464.00,351.65 L464.68,353.47 L466.62,353.55 L465.10,354.76 L465.62,356.62 L464.00,355.55 L462.38,356.62 L462.90,354.76 L461.38,353.55 L463.32,353.47 Z M469.40,351.65 L470.08,353.47 L472.02,353.55 L470.50,354.76 L471.02,356.62 L469.40,355.55 L467.78,356.62 L468.30,354.76 L466.78,353.55 L468.72,353.47 Z" fill="#555"/>
<text transform="translate(489.10,360.50) scale(1,1.05)" font-size="9" text-anchor="middle" fill="#555" stroke="#555" stroke-width="0.3" font-weight="normal" font-style="normal" >n.s.</text>
<path d="M550.30,306.15 L550.98,307.97 L552.92,308.05 L551.40,309.26 L551.92,311.12 L550.30,310.05 L548.68,311.12 L549.20,309.26 L547.68,308.05 L549.62,307.97 Z M555.70,306.15 L556.38,307.97 L558.32,308.05 L556.80,309.26 L557.32,311.12 L555.70,310.05 L554.08,311.12 L554.60,309.26 L553.08,308.05 L555.02,307.97 Z M561.10,306.15 L561.78,307.97 L563.72,308.05 L562.20,309.26 L562.72,311.12 L561.10,310.05 L559.48,311.12 L560.00,309.26 L558.48,308.05 L560.42,307.97 Z" fill="#555"/>
<path d="M573.60,296.95 L574.28,298.77 L576.22,298.85 L574.70,300.06 L575.22,301.92 L573.60,300.85 L571.98,301.92 L572.50,300.06 L570.98,298.85 L572.92,298.77 Z M579.00,296.95 L579.68,298.77 L581.62,298.85 L580.10,300.06 L580.62,301.92 L579.00,300.85 L577.38,301.92 L577.90,300.06 L576.38,298.85 L578.32,298.77 Z M584.40,296.95 L585.08,298.77 L587.02,298.85 L585.50,300.06 L586.02,301.92 L584.40,300.85 L582.78,301.92 L583.30,300.06 L581.78,298.85 L583.72,298.77 Z" fill="#555"/>
<path d="M642.50,324.65 L643.18,326.47 L645.12,326.55 L643.60,327.76 L644.12,329.62 L642.50,328.55 L640.88,329.62 L641.40,327.76 L639.88,326.55 L641.82,326.47 Z M647.90,324.65 L648.58,326.47 L650.52,326.55 L649.00,327.76 L649.52,329.62 L647.90,328.55 L646.28,329.62 L646.80,327.76 L645.28,326.55 L647.22,326.47 Z M653.30,324.65 L653.98,326.47 L655.92,326.55 L654.40,327.76 L654.92,329.62 L653.30,328.55 L651.68,329.62 L652.20,327.76 L650.68,326.55 L652.62,326.47 Z" fill="#555"/>
<path d="M663.80,191.85 L664.48,193.67 L666.42,193.75 L664.90,194.96 L665.42,196.82 L663.80,195.75 L662.18,196.82 L662.70,194.96 L661.18,193.75 L663.12,193.67 Z M669.20,191.85 L669.88,193.67 L671.82,193.75 L670.30,194.96 L670.82,196.82 L669.20,195.75 L667.58,196.82 L668.10,194.96 L666.58,193.75 L668.52,193.67 Z M674.60,191.85 L675.28,193.67 L677.22,193.75 L675.70,194.96 L676.22,196.82 L674.60,195.75 L672.98,196.82 L673.50,194.96 L671.98,193.75 L673.92,193.67 Z" fill="#555"/>
<text transform="translate(0.00,452.40) scale(1,1.05)" font-size="22.5" text-anchor="start" fill="#000" stroke="#000" stroke-width="0.3" font-weight="bold" font-style="normal" >d</text>
<text transform="translate(49.60,479.70) scale(1,1.05)" font-size="13.7" text-anchor="start" fill="#000" stroke="#000" stroke-width="0.3" font-weight="normal" font-style="normal" >dHyperLbCas12a</text>
<line x1="190.20" y1="466.50" x2="190.20" y2="482.00" stroke="#cc2f3f" stroke-width="1.8" />
<rect x="184.50" y="470.40" width="11.40" height="7.90" fill="#fff" stroke="#cc2f3f" stroke-width="1.8" />
<line x1="184.50" y1="474.35" x2="195.90" y2="474.35" stroke="#cc2f3f" stroke-width="1.8" />
<circle cx="190.20" cy="474.35" r="2.4" fill="#000" />
<text transform="translate(198.50,479.80) scale(1,1.05)" font-size="13.7" text-anchor="start" fill="#000" stroke="#000" stroke-width="0.3" font-weight="normal" font-style="normal" >P300</text>
<line x1="282.90" y1="466.50" x2="282.90" y2="482.00" stroke="#f7941d" stroke-width="1.8" />
<rect x="277.10" y="470.40" width="11.60" height="7.90" fill="#fff" stroke="#f7941d" stroke-width="1.8" />
<line x1="277.10" y1="474.35" x2="288.70" y2="474.35" stroke="#f7941d" stroke-width="1.8" />
<path d="M279.40,477.80 L286.40,477.80 L282.90,471.50 Z" fill="#000"/>
<text transform="translate(292.00,479.80) scale(1,1.05)" font-size="13.7" text-anchor="start" fill="#000" stroke="#000" stroke-width="0.3" font-weight="normal" font-style="normal" >VPR</text>
<rect x="42.20" y="490.30" width="282.10" height="18.60" fill="#000" stroke="none" stroke-width="0" />
<rect x="45.20" y="493.30" width="92.80" height="13.30" fill="#2e3192" stroke="none" stroke-width="0" />
<rect x="141.00" y="493.30" width="88.00" height="13.30" fill="#a67c52" stroke="none" stroke-width="0" />
<rect x="232.00" y="493.30" width="89.30" height="13.30" fill="#fd79a9" stroke="none" stroke-width="0" />
<line x1="46.00" y1="689.70" x2="323.00" y2="689.70" stroke="#939393" stroke-width="1.6" />
<line x1="139.40" y1="506.00" x2="139.40" y2="727.00" stroke="#000" stroke-width="2.1" stroke-dasharray="3.8,3.92"/>
<line x1="230.00" y1="506.00" x2="230.00" y2="727.00" stroke="#000" stroke-width="2.1" stroke-dasharray="3.8,3.92"/>
<line x1="323.00" y1="506.00" x2="323.00" y2="718.20" stroke="#000" stroke-width="2.1" stroke-dasharray="3.8,3.92"/>
<line x1="44.50" y1="508.40" x2="44.50" y2="733.70" stroke="#000" stroke-width="3.6" />
<line x1="42.70" y1="731.80" x2="327.40" y2="731.80" stroke="#000" stroke-width="3.8" />
<line x1="38.50" y1="541.60" x2="42.70" y2="541.60" stroke="#333333" stroke-width="3.4" />
<text transform="translate(37.50,546.10) scale(1,1.05)" font-size="13.5" text-anchor="end" fill="#4d4d4d" stroke="#4d4d4d" stroke-width="0.3" font-weight="normal" font-style="normal" >10</text>
<line x1="38.50" y1="578.90" x2="42.70" y2="578.90" stroke="#333333" stroke-width="3.4" />
<text transform="translate(37.50,583.40) scale(1,1.05)" font-size="13.5" text-anchor="end" fill="#4d4d4d" stroke="#4d4d4d" stroke-width="0.3" font-weight="normal" font-style="normal" >7.5</text>
<line x1="38.50" y1="615.50" x2="42.70" y2="615.50" stroke="#333333" stroke-width="3.4" />
<text transform="translate(37.50,620.00) scale(1,1.05)" font-size="13.5" text-anchor="end" fill="#4d4d4d" stroke="#4d4d4d" stroke-width="0.3" font-weight="normal" font-style="normal" >5</text>
<line x1="38.50" y1="652.30" x2="42.70" y2="652.30" stroke="#333333" stroke-width="3.4" />
<text transform="translate(37.50,656.80) scale(1,1.05)" font-size="13.5" text-anchor="end" fill="#4d4d4d" stroke="#4d4d4d" stroke-width="0.3" font-weight="normal" font-style="normal" >2.5</text>
<line x1="38.50" y1="689.30" x2="42.70" y2="689.30" stroke="#333333" stroke-width="3.4" />
<text transform="translate(37.50,693.80) scale(1,1.05)" font-size="13.5" text-anchor="end" fill="#4d4d4d" stroke="#4d4d4d" stroke-width="0.3" font-weight="normal" font-style="normal" >0</text>
<line x1="69.90" y1="733.70" x2="69.90" y2="738.70" stroke="#333333" stroke-width="3.3" />
<text transform="translate(74.50,743.30) rotate(-90) scale(1,1.05)" font-size="13.7" text-anchor="end" fill="#4d4d4d" stroke="#4d4d4d" stroke-width="0.3">Ctrl</text>
<line x1="117.20" y1="733.70" x2="117.20" y2="738.70" stroke="#333333" stroke-width="3.3" />
<text transform="translate(121.80,743.30) rotate(-90) scale(1,1.05)" font-size="13.7" text-anchor="end" fill="#4d4d4d" stroke="#4d4d4d" stroke-width="0.3">Array</text>
<line x1="161.80" y1="733.70" x2="161.80" y2="738.70" stroke="#333333" stroke-width="3.3" />
<text transform="translate(166.40,743.30) rotate(-90) scale(1,1.05)" font-size="13.7" text-anchor="end" fill="#4d4d4d" stroke="#4d4d4d" stroke-width="0.3">Ctrl</text>
<line x1="209.10" y1="733.70" x2="209.10" y2="738.70" stroke="#333333" stroke-width="3.3" />
<text transform="translate(213.70,743.30) rotate(-90) scale(1,1.05)" font-size="13.7" text-anchor="end" fill="#4d4d4d" stroke="#4d4d4d" stroke-width="0.3">Array</text>
<line x1="254.30" y1="733.70" x2="254.30" y2="738.70" stroke="#333333" stroke-width="3.3" />
<text transform="translate(258.90,743.30) rotate(-90) scale(1,1.05)" font-size="13.7" text-anchor="end" fill="#4d4d4d" stroke="#4d4d4d" stroke-width="0.3">Ctrl</text>
<line x1="301.00" y1="733.70" x2="301.00" y2="738.70" stroke="#333333" stroke-width="3.3" />
<text transform="translate(305.60,743.30) rotate(-90) scale(1,1.05)" font-size="13.7" text-anchor="end" fill="#4d4d4d" stroke="#4d4d4d" stroke-width="0.3">Array</text>
<text transform="translate(47.40,521.70) scale(1,1.05)" font-size="13.7" text-anchor="start" fill="#000" stroke="#000" stroke-width="0.3" font-weight="normal" font-style="normal" >A549</text>
<text transform="translate(93.00,727.40) scale(1,1.05)" font-size="13.7" text-anchor="middle" fill="#000" stroke="#000" stroke-width="0.3" font-weight="normal" font-style="italic" >AR</text>
<text transform="translate(185.40,727.40) scale(1,1.05)" font-size="13.7" text-anchor="middle" fill="#000" stroke="#000" stroke-width="0.3" font-weight="normal" font-style="italic" >MYOD1</text>
<text transform="translate(276.90,727.40) scale(1,1.05)" font-size="13.7" text-anchor="middle" fill="#000" stroke="#000" stroke-width="0.3" font-weight="normal" font-style="italic" >HBE1</text>
<text transform="translate(12.00,613.80) rotate(-90) scale(1,1.05)" font-size="13.7" text-anchor="middle" fill="#000" stroke="#000" stroke-width="0.3">log<tspan font-size="9.5" dy="3.5">2</tspan><tspan dy="-3.5"> fold change</tspan></text>
<line x1="59.60" y1="683.40" x2="59.60" y2="686.90" stroke="#cc2f3f" stroke-width="2.0" />
<line x1="59.60" y1="693.00" x2="59.60" y2="694.40" stroke="#cc2f3f" stroke-width="2.0" />
<rect x="51.70" y="687.90" width="15.80" height="4.10" fill="#fff" stroke="#cc2f3f" stroke-width="2.0" />
<line x1="51.70" y1="689.30" x2="67.50" y2="689.30" stroke="#cc2f3f" stroke-width="2.0" />
<circle cx="57.20" cy="689.90" r="2.1" fill="#000" />
<circle cx="59.70" cy="683.40" r="2.1" fill="#000" />
<circle cx="63.40" cy="694.40" r="2.1" fill="#000" />
<line x1="82.05" y1="681.70" x2="82.05" y2="687.50" stroke="#f7941d" stroke-width="2.0" />
<rect x="73.20" y="687.50" width="17.70" height="5.50" fill="#f7941d" stroke="none" stroke-width="0" />
<rect x="75.20" y="689.20" width="13.70" height="2.10" fill="#fbce99" stroke="none" stroke-width="0" />
<path d="M75.40,695.61 L81.20,695.61 L78.30,690.39 Z" fill="#000"/>
<path d="M79.30,684.31 L85.10,684.31 L82.20,679.09 Z" fill="#000"/>
<path d="M83.30,694.21 L89.10,694.21 L86.20,688.99 Z" fill="#000"/>
<line x1="105.50" y1="698.50" x2="105.50" y2="700.60" stroke="#cc2f3f" stroke-width="2.0" />
<rect x="96.50" y="694.40" width="18.00" height="4.10" fill="#cc2f3f" stroke="none" stroke-width="0" />
<circle cx="101.80" cy="694.40" r="2.1" fill="#000" />
<circle cx="105.30" cy="700.60" r="2.1" fill="#000" />
<circle cx="109.30" cy="695.60" r="2.1" fill="#000" />
<line x1="128.00" y1="670.50" x2="128.00" y2="680.30" stroke="#f7941d" stroke-width="2.0" />
<line x1="128.00" y1="693.00" x2="128.00" y2="695.00" stroke="#f7941d" stroke-width="2.0" />
<rect x="120.10" y="681.30" width="15.80" height="10.70" fill="#fff" stroke="#f7941d" stroke-width="2.0" />
<line x1="120.10" y1="688.90" x2="135.90" y2="688.90" stroke="#f7941d" stroke-width="2.0" />
<path d="M125.40,673.11 L131.20,673.11 L128.30,667.89 Z" fill="#000"/>
<path d="M125.40,690.91 L131.20,690.91 L128.30,685.69 Z" fill="#000"/>
<path d="M125.40,697.61 L131.20,697.61 L128.30,692.39 Z" fill="#000"/>
<line x1="151.55" y1="694.30" x2="151.55" y2="705.40" stroke="#cc2f3f" stroke-width="2.0" />
<rect x="143.30" y="682.30" width="16.50" height="11.00" fill="#fff" stroke="#cc2f3f" stroke-width="2.0" />
<line x1="143.30" y1="682.00" x2="159.80" y2="682.00" stroke="#cc2f3f" stroke-width="2.0" />
<circle cx="147.40" cy="682.00" r="2.1" fill="#000" />
<circle cx="155.40" cy="682.00" r="2.1" fill="#000" />
<circle cx="151.40" cy="705.40" r="2.1" fill="#000" />
<line x1="174.20" y1="695.00" x2="174.20" y2="707.90" stroke="#f7941d" stroke-width="2.0" />
<rect x="165.90" y="680.40" width="16.60" height="13.60" fill="#fff" stroke="#f7941d" stroke-width="2.0" />
<line x1="165.90" y1="680.00" x2="182.50" y2="680.00" stroke="#f7941d" stroke-width="2.0" />
<path d="M167.10,682.31 L172.90,682.31 L170.00,677.09 Z" fill="#000"/>
<path d="M174.90,682.31 L180.70,682.31 L177.80,677.09 Z" fill="#000"/>
<path d="M171.20,710.51 L177.00,710.51 L174.10,705.29 Z" fill="#000"/>
<line x1="197.45" y1="620.80" x2="197.45" y2="623.60" stroke="#cc2f3f" stroke-width="2.0" />
<rect x="188.90" y="614.80" width="17.10" height="5.00" fill="#fff" stroke="#cc2f3f" stroke-width="2.0" />
<line x1="188.90" y1="617.00" x2="206.00" y2="617.00" stroke="#cc2f3f" stroke-width="2.0" />
<circle cx="193.30" cy="614.00" r="2.1" fill="#000" />
<circle cx="201.20" cy="615.30" r="2.1" fill="#000" />
<circle cx="197.30" cy="623.60" r="2.1" fill="#000" />
<line x1="219.70" y1="543.00" x2="219.70" y2="546.70" stroke="#f7941d" stroke-width="2.0" />
<rect x="211.20" y="547.70" width="17.00" height="5.00" fill="#fff" stroke="#f7941d" stroke-width="2.0" />
<line x1="211.20" y1="550.50" x2="228.20" y2="550.50" stroke="#f7941d" stroke-width="2.0" />
<path d="M213.00,554.11 L218.80,554.11 L215.90,548.89 Z" fill="#000"/>
<path d="M220.90,554.81 L226.70,554.81 L223.80,549.59 Z" fill="#000"/>
<path d="M217.00,545.61 L222.80,545.61 L219.90,540.39 Z" fill="#000"/>
<line x1="243.25" y1="678.70" x2="243.25" y2="685.30" stroke="#cc2f3f" stroke-width="2.0" />
<line x1="243.25" y1="695.50" x2="243.25" y2="697.70" stroke="#cc2f3f" stroke-width="2.0" />
<rect x="235.10" y="686.30" width="16.30" height="8.20" fill="#fff" stroke="#cc2f3f" stroke-width="2.0" />
<line x1="235.10" y1="693.30" x2="251.40" y2="693.30" stroke="#cc2f3f" stroke-width="2.0" />
<circle cx="243.00" cy="678.70" r="2.1" fill="#000" />
<circle cx="243.00" cy="691.80" r="2.1" fill="#000" />
<circle cx="243.00" cy="697.70" r="2.1" fill="#000" />
<line x1="265.95" y1="680.10" x2="265.95" y2="684.10" stroke="#f7941d" stroke-width="2.0" />
<line x1="265.95" y1="694.30" x2="265.95" y2="698.70" stroke="#f7941d" stroke-width="2.0" />
<rect x="257.50" y="685.10" width="16.90" height="8.20" fill="#fff" stroke="#f7941d" stroke-width="2.0" />
<line x1="257.50" y1="687.00" x2="274.40" y2="687.00" stroke="#f7941d" stroke-width="2.0" />
<path d="M263.10,682.71 L268.90,682.71 L266.00,677.49 Z" fill="#000"/>
<path d="M263.10,689.61 L268.90,689.61 L266.00,684.39 Z" fill="#000"/>
<path d="M263.10,701.31 L268.90,701.31 L266.00,696.09 Z" fill="#000"/>
<line x1="289.10" y1="646.60" x2="289.10" y2="648.30" stroke="#cc2f3f" stroke-width="2.0" />
<rect x="279.40" y="648.30" width="19.40" height="4.40" fill="#cc2f3f" stroke="none" stroke-width="0" />
<rect x="281.40" y="650.00" width="15.40" height="1.00" fill="#e8a1a8" stroke="none" stroke-width="0" />
<circle cx="286.10" cy="653.10" r="2.1" fill="#000" />
<circle cx="289.00" cy="646.60" r="2.1" fill="#000" />
<circle cx="294.00" cy="650.50" r="2.1" fill="#000" />
<line x1="311.75" y1="518.90" x2="311.75" y2="520.20" stroke="#f7941d" stroke-width="2.0" />
<line x1="311.75" y1="524.60" x2="311.75" y2="525.50" stroke="#f7941d" stroke-width="2.0" />
<rect x="302.30" y="520.20" width="18.90" height="4.40" fill="#f7941d" stroke="none" stroke-width="0" />
<rect x="304.30" y="521.90" width="14.90" height="1.00" fill="#fbce99" stroke="none" stroke-width="0" />
<path d="M304.10,524.11 L309.90,524.11 L307.00,518.89 Z" fill="#000"/>
<path d="M308.80,521.51 L314.60,521.51 L311.70,516.29 Z" fill="#000"/>
<path d="M313.90,528.11 L319.70,528.11 L316.80,522.89 Z" fill="#000"/>
<text transform="translate(106.30,687.80) scale(1,1.05)" font-size="9" text-anchor="middle" fill="#555" stroke="#555" stroke-width="0.3" font-weight="normal" font-style="normal" >n.s.</text>
<text transform="translate(128.80,666.00) scale(1,1.05)" font-size="9" text-anchor="middle" fill="#555" stroke="#555" stroke-width="0.3" font-weight="normal" font-style="normal" >n.s.</text>
<path d="M192.90,605.75 L193.58,607.57 L195.52,607.65 L194.00,608.86 L194.52,610.72 L192.90,609.65 L191.28,610.72 L191.80,608.86 L190.28,607.65 L192.22,607.57 Z M198.30,605.75 L198.98,607.57 L200.92,607.65 L199.40,608.86 L199.92,610.72 L198.30,609.65 L196.68,610.72 L197.20,608.86 L195.68,607.65 L197.62,607.57 Z" fill="#555"/>
<path d="M214.20,533.25 L214.88,535.07 L216.82,535.15 L215.30,536.36 L215.82,538.22 L214.20,537.15 L212.58,538.22 L213.10,536.36 L211.58,535.15 L213.52,535.07 Z M219.60,533.25 L220.28,535.07 L222.22,535.15 L220.70,536.36 L221.22,538.22 L219.60,537.15 L217.98,538.22 L218.50,536.36 L216.98,535.15 L218.92,535.07 Z M225.00,533.25 L225.68,535.07 L227.62,535.15 L226.10,536.36 L226.62,538.22 L225.00,537.15 L223.38,538.22 L223.90,536.36 L222.38,535.15 L224.32,535.07 Z" fill="#555"/>
<path d="M286.80,636.65 L287.48,638.47 L289.42,638.55 L287.90,639.76 L288.42,641.62 L286.80,640.55 L285.18,641.62 L285.70,639.76 L284.18,638.55 L286.12,638.47 Z M292.20,636.65 L292.88,638.47 L294.82,638.55 L293.30,639.76 L293.82,641.62 L292.20,640.55 L290.58,641.62 L291.10,639.76 L289.58,638.55 L291.52,638.47 Z" fill="#555"/>
<path d="M306.60,509.95 L307.28,511.77 L309.22,511.85 L307.70,513.06 L308.22,514.92 L306.60,513.85 L304.98,514.92 L305.50,513.06 L303.98,511.85 L305.92,511.77 Z M312.00,509.95 L312.68,511.77 L314.62,511.85 L313.10,513.06 L313.62,514.92 L312.00,513.85 L310.38,514.92 L310.90,513.06 L309.38,511.85 L311.32,511.77 Z M317.40,509.95 L318.08,511.77 L320.02,511.85 L318.50,513.06 L319.02,514.92 L317.40,513.85 L315.78,514.92 L316.30,513.06 L314.78,511.85 L316.72,511.77 Z" fill="#555"/>
<text transform="translate(361.00,452.10) scale(1,1.05)" font-size="22.5" text-anchor="start" fill="#000" stroke="#000" stroke-width="0.3" font-weight="bold" font-style="normal" >e</text>
<text transform="translate(408.90,482.00) scale(1,1.05)" font-size="13.7" text-anchor="start" fill="#000" stroke="#000" stroke-width="0.3" font-weight="normal" font-style="normal" >dHyperLbCas12a</text>
<line x1="541.00" y1="469.60" x2="541.00" y2="484.60" stroke="#f7941d" stroke-width="1.8" />
<rect x="535.20" y="473.40" width="11.60" height="8.00" fill="#fff" stroke="#f7941d" stroke-width="1.8" />
<line x1="535.20" y1="477.40" x2="546.80" y2="477.40" stroke="#f7941d" stroke-width="1.8" />
<circle cx="541.00" cy="477.40" r="2.4" fill="#000" />
<text transform="translate(550.40,482.00) scale(1,1.05)" font-size="13.7" text-anchor="start" fill="#000" stroke="#000" stroke-width="0.3" font-weight="normal" font-style="normal" >VPR</text>
<rect x="401.50" y="490.20" width="282.00" height="18.30" fill="#000" stroke="none" stroke-width="0" />
<rect x="404.50" y="493.20" width="94.00" height="13.00" fill="#2e3192" stroke="none" stroke-width="0" />
<rect x="501.50" y="493.20" width="87.20" height="13.00" fill="#a67c52" stroke="none" stroke-width="0" />
<rect x="591.70" y="493.20" width="88.80" height="13.00" fill="#fd79a9" stroke="none" stroke-width="0" />
<line x1="544.50" y1="493.20" x2="544.50" y2="506.20" stroke="#b48c64" stroke-width="0.8" />
<line x1="406.00" y1="679.00" x2="683.00" y2="679.00" stroke="#939393" stroke-width="1.6" />
<line x1="500.10" y1="506.00" x2="500.10" y2="727.00" stroke="#000" stroke-width="2.1" stroke-dasharray="3.8,3.92"/>
<line x1="590.70" y1="506.00" x2="590.70" y2="727.00" stroke="#000" stroke-width="2.1" stroke-dasharray="3.8,3.92"/>
<line x1="682.90" y1="506.00" x2="682.90" y2="727.00" stroke="#000" stroke-width="2.1" stroke-dasharray="3.8,3.92"/>
<line x1="403.30" y1="508.00" x2="403.30" y2="733.50" stroke="#000" stroke-width="3.6" />
<line x1="401.50" y1="731.60" x2="683.80" y2="731.60" stroke="#000" stroke-width="3.8" />
<line x1="397.30" y1="531.10" x2="401.50" y2="531.10" stroke="#333333" stroke-width="3.4" />
<text transform="translate(395.00,535.60) scale(1,1.05)" font-size="13.5" text-anchor="end" fill="#4d4d4d" stroke="#4d4d4d" stroke-width="0.3" font-weight="normal" font-style="normal" >10</text>
<line x1="397.30" y1="568.20" x2="401.50" y2="568.20" stroke="#333333" stroke-width="3.4" />
<text transform="translate(395.00,572.70) scale(1,1.05)" font-size="13.5" text-anchor="end" fill="#4d4d4d" stroke="#4d4d4d" stroke-width="0.3" font-weight="normal" font-style="normal" >7.5</text>
<line x1="397.30" y1="605.10" x2="401.50" y2="605.10" stroke="#333333" stroke-width="3.4" />
<text transform="translate(395.00,609.60) scale(1,1.05)" font-size="13.5" text-anchor="end" fill="#4d4d4d" stroke="#4d4d4d" stroke-width="0.3" font-weight="normal" font-style="normal" >5</text>
<line x1="397.30" y1="641.80" x2="401.50" y2="641.80" stroke="#333333" stroke-width="3.4" />
<text transform="translate(395.00,646.30) scale(1,1.05)" font-size="13.5" text-anchor="end" fill="#4d4d4d" stroke="#4d4d4d" stroke-width="0.3" font-weight="normal" font-style="normal" >2.5</text>
<line x1="397.30" y1="679.00" x2="401.50" y2="679.00" stroke="#333333" stroke-width="3.4" />
<text transform="translate(395.00,683.50) scale(1,1.05)" font-size="13.5" text-anchor="end" fill="#4d4d4d" stroke="#4d4d4d" stroke-width="0.3" font-weight="normal" font-style="normal" >0</text>
<line x1="397.30" y1="716.10" x2="401.50" y2="716.10" stroke="#333333" stroke-width="3.4" />
<text transform="translate(395.00,720.60) scale(1,1.05)" font-size="13.5" text-anchor="end" fill="#4d4d4d" stroke="#4d4d4d" stroke-width="0.3" font-weight="normal" font-style="normal" >−2.5</text>
<line x1="425.20" y1="733.50" x2="425.20" y2="738.50" stroke="#333333" stroke-width="3.3" />
<text transform="translate(429.80,743.30) rotate(-90) scale(1,1.05)" font-size="13.7" text-anchor="end" fill="#4d4d4d" stroke="#4d4d4d" stroke-width="0.3">Ctrl</text>
<line x1="475.10" y1="733.50" x2="475.10" y2="738.50" stroke="#333333" stroke-width="3.3" />
<text transform="translate(479.70,743.30) rotate(-90) scale(1,1.05)" font-size="13.7" text-anchor="end" fill="#4d4d4d" stroke="#4d4d4d" stroke-width="0.3">Array</text>
<line x1="521.40" y1="733.50" x2="521.40" y2="738.50" stroke="#333333" stroke-width="3.3" />
<text transform="translate(526.00,743.30) rotate(-90) scale(1,1.05)" font-size="13.7" text-anchor="end" fill="#4d4d4d" stroke="#4d4d4d" stroke-width="0.3">Ctrl</text>
<line x1="571.00" y1="733.50" x2="571.00" y2="738.50" stroke="#333333" stroke-width="3.3" />
<text transform="translate(575.60,743.30) rotate(-90) scale(1,1.05)" font-size="13.7" text-anchor="end" fill="#4d4d4d" stroke="#4d4d4d" stroke-width="0.3">Array</text>
<line x1="618.40" y1="733.50" x2="618.40" y2="738.50" stroke="#333333" stroke-width="3.3" />
<text transform="translate(623.00,743.30) rotate(-90) scale(1,1.05)" font-size="13.7" text-anchor="end" fill="#4d4d4d" stroke="#4d4d4d" stroke-width="0.3">Ctrl</text>
<line x1="667.10" y1="733.50" x2="667.10" y2="738.50" stroke="#333333" stroke-width="3.3" />
<text transform="translate(671.70,743.30) rotate(-90) scale(1,1.05)" font-size="13.7" text-anchor="end" fill="#4d4d4d" stroke="#4d4d4d" stroke-width="0.3">Array</text>
<text transform="translate(408.40,522.20) scale(1,1.05)" font-size="13.7" text-anchor="start" fill="#000" stroke="#000" stroke-width="0.3" font-weight="normal" font-style="normal" >Primary T Cell</text>
<text transform="translate(449.80,726.60) scale(1,1.05)" font-size="13.7" text-anchor="middle" fill="#000" stroke="#000" stroke-width="0.3" font-weight="normal" font-style="italic" >AR</text>
<text transform="translate(546.80,726.40) scale(1,1.05)" font-size="13.7" text-anchor="middle" fill="#000" stroke="#000" stroke-width="0.3" font-weight="normal" font-style="italic" >MYOD1</text>
<text transform="translate(643.00,727.10) scale(1,1.05)" font-size="13.7" text-anchor="middle" fill="#000" stroke="#000" stroke-width="0.3" font-weight="normal" font-style="italic" >HBE1</text>
<text transform="translate(368.60,613.60) rotate(-90) scale(1,1.05)" font-size="13.7" text-anchor="middle" fill="#000" stroke="#000" stroke-width="0.3">log<tspan font-size="9.5" dy="3.5">2</tspan><tspan dy="-3.5"> fold change</tspan></text>
<line x1="426.20" y1="664.70" x2="426.20" y2="671.20" stroke="#686868" stroke-width="2.0" />
<line x1="426.20" y1="686.20" x2="426.20" y2="693.90" stroke="#686868" stroke-width="2.0" />
<rect x="413.00" y="672.20" width="26.40" height="13.00" fill="#fff" stroke="#686868" stroke-width="2.0" />
<line x1="413.00" y1="678.00" x2="439.40" y2="678.00" stroke="#686868" stroke-width="2.0" />
<circle cx="426.00" cy="664.70" r="2.5" fill="#000" />
<circle cx="426.00" cy="678.00" r="2.5" fill="#000" />
<circle cx="426.00" cy="693.90" r="2.5" fill="#000" />
<line x1="474.30" y1="685.20" x2="474.30" y2="689.70" stroke="#f7941d" stroke-width="2.0" />
<line x1="474.30" y1="702.00" x2="474.30" y2="708.60" stroke="#f7941d" stroke-width="2.0" />
<rect x="461.30" y="690.70" width="26.00" height="10.30" fill="#fff" stroke="#f7941d" stroke-width="2.0" />
<line x1="461.30" y1="694.60" x2="487.30" y2="694.60" stroke="#f7941d" stroke-width="2.0" />
<circle cx="474.30" cy="685.20" r="2.5" fill="#000" />
<circle cx="474.30" cy="694.60" r="2.5" fill="#000" />
<circle cx="474.30" cy="708.60" r="2.5" fill="#000" />
<line x1="522.55" y1="676.00" x2="522.55" y2="677.20" stroke="#686868" stroke-width="2.0" />
<rect x="508.10" y="677.20" width="28.90" height="4.00" fill="#686868" stroke="none" stroke-width="0" />
<circle cx="514.40" cy="681.20" r="2.5" fill="#000" />
<circle cx="522.30" cy="679.70" r="2.5" fill="#000" />
<circle cx="530.00" cy="676.00" r="2.5" fill="#000" />
<line x1="570.40" y1="605.60" x2="570.40" y2="621.80" stroke="#f7941d" stroke-width="2.0" />
<rect x="556.80" y="586.80" width="27.20" height="17.80" fill="#fff" stroke="#f7941d" stroke-width="2.0" />
<line x1="556.80" y1="587.00" x2="584.00" y2="587.00" stroke="#f7941d" stroke-width="2.0" />
<circle cx="563.30" cy="587.70" r="2.5" fill="#000" />
<circle cx="577.50" cy="585.50" r="2.5" fill="#000" />
<circle cx="570.50" cy="621.80" r="2.5" fill="#000" />
<line x1="618.55" y1="652.60" x2="618.55" y2="667.30" stroke="#686868" stroke-width="2.0" />
<line x1="618.55" y1="692.10" x2="618.55" y2="702.30" stroke="#686868" stroke-width="2.0" />
<rect x="605.40" y="668.30" width="26.30" height="22.80" fill="#fff" stroke="#686868" stroke-width="2.0" />
<line x1="605.40" y1="682.40" x2="631.70" y2="682.40" stroke="#686868" stroke-width="2.0" />
<circle cx="618.40" cy="652.60" r="2.5" fill="#000" />
<circle cx="618.40" cy="682.40" r="2.5" fill="#000" />
<circle cx="618.40" cy="702.30" r="2.5" fill="#000" />
<line x1="666.90" y1="540.90" x2="666.90" y2="542.50" stroke="#f7941d" stroke-width="2.0" />
<line x1="666.90" y1="559.00" x2="666.90" y2="570.60" stroke="#f7941d" stroke-width="2.0" />
<rect x="653.60" y="543.50" width="26.60" height="14.50" fill="#fff" stroke="#f7941d" stroke-width="2.0" />
<line x1="653.60" y1="547.00" x2="680.20" y2="547.00" stroke="#f7941d" stroke-width="2.0" />
<circle cx="660.70" cy="542.00" r="2.5" fill="#000" />
<circle cx="672.50" cy="547.20" r="2.5" fill="#000" />
<circle cx="666.50" cy="570.60" r="2.5" fill="#000" />
<text transform="translate(475.50,674.70) scale(1,1.05)" font-size="9" text-anchor="middle" fill="#555" stroke="#555" stroke-width="0.3" font-weight="normal" font-style="normal" >n.s.</text>
<path d="M570.20,575.15 L570.88,576.97 L572.82,577.05 L571.30,578.26 L571.82,580.12 L570.20,579.05 L568.58,580.12 L569.10,578.26 L567.58,577.05 L569.52,576.97 Z" fill="#555"/>
<path d="M667.30,531.85 L667.98,533.67 L669.92,533.75 L668.40,534.96 L668.92,536.82 L667.30,535.75 L665.68,536.82 L666.20,534.96 L664.68,533.75 L666.62,533.67 Z" fill="#555"/>
<text transform="translate(0.00,784.20) scale(1,1.05)" font-size="22.5" text-anchor="start" fill="#000" stroke="#000" stroke-width="0.3" font-weight="bold" font-style="normal" >f</text>
<rect x="123.80" y="799.80" width="434.00" height="73.80" fill="none" stroke="#000" stroke-width="1.6" />
<text transform="translate(272.20,812.50) scale(1,1.05)" font-size="13.7" text-anchor="start" fill="#000" stroke="#000" stroke-width="0.3" font-weight="normal" font-style="normal" >Activation target genes</text>
<text transform="translate(244.50,832.90) scale(1,1.05)" font-size="13.7" text-anchor="end" fill="#000" stroke="#000" stroke-width="0.3" font-weight="normal" font-style="normal" >Core Factors:</text>
<text transform="translate(244.50,860.10) scale(1,1.05)" font-size="13.7" text-anchor="end" fill="#000" stroke="#000" stroke-width="0.3" font-weight="normal" font-style="normal" >Accessory Factors:</text>
<rect x="251.20" y="821.60" width="15.70" height="15.50" fill="#f7941d" stroke="#000" stroke-width="2.8" />
<text transform="translate(271.10,832.40) scale(1,1.05)" font-size="13.7" text-anchor="start" fill="#000" stroke="#000" stroke-width="0.3" font-weight="normal" font-style="italic" >NGN1</text>
<rect x="329.00" y="821.60" width="15.70" height="15.50" fill="#2e3192" stroke="#000" stroke-width="2.8" />
<text transform="translate(349.10,832.40) scale(1,1.05)" font-size="13.7" text-anchor="start" fill="#000" stroke="#000" stroke-width="0.3" font-weight="normal" font-style="italic" >NGN2</text>
<rect x="406.40" y="821.60" width="15.70" height="15.50" fill="#ed1c24" stroke="#000" stroke-width="2.8" />
<text transform="translate(426.00,832.40) scale(1,1.05)" font-size="13.7" text-anchor="start" fill="#000" stroke="#000" stroke-width="0.3" font-weight="normal" font-style="italic" >NGN3</text>
<rect x="251.20" y="849.00" width="15.70" height="15.50" fill="#00a79d" stroke="#000" stroke-width="2.8" />
<text transform="translate(271.10,860.00) scale(1,1.05)" font-size="13.7" text-anchor="start" fill="#000" stroke="#000" stroke-width="0.3" font-weight="normal" font-style="italic" >LHX6</text>
<rect x="329.00" y="849.00" width="15.70" height="15.50" fill="#a67c52" stroke="#000" stroke-width="2.8" />
<text transform="translate(349.10,860.00) scale(1,1.05)" font-size="13.7" text-anchor="start" fill="#000" stroke="#000" stroke-width="0.3" font-weight="normal" font-style="italic" >LHX8</text>
<rect x="406.40" y="849.00" width="15.70" height="15.50" fill="#fd79a9" stroke="#000" stroke-width="2.8" />
<text transform="translate(426.00,860.00) scale(1,1.05)" font-size="13.7" text-anchor="start" fill="#000" stroke="#000" stroke-width="0.3" font-weight="normal" font-style="italic" >SOX2</text>
<rect x="486.50" y="849.00" width="15.70" height="15.50" fill="#92278f" stroke="#000" stroke-width="2.8" />
<text transform="translate(506.90,860.00) scale(1,1.05)" font-size="13.7" text-anchor="start" fill="#000" stroke="#000" stroke-width="0.3" font-weight="normal" font-style="italic" >E2F7</text>
<text transform="translate(58.80,896.20) scale(1,1.05)" font-size="13.7" text-anchor="start" fill="#000" stroke="#000" stroke-width="0.3" font-weight="normal" font-style="normal" >CAG</text>
<text transform="translate(125.00,895.90) scale(1,1.05)" font-size="13.7" text-anchor="start" fill="#000" stroke="#000" stroke-width="0.3" font-weight="normal" font-style="normal" >NGN3</text>
<rect x="60.90" y="905.30" width="12.00" height="4.40" fill="#000" stroke="none" stroke-width="0" />
<path d="M69.30,898.20 L86.40,907.50 L69.30,916.80 Z" fill="#000"/>
<rect x="86.30" y="903.10" width="8.70" height="8.80" fill="#000" stroke="none" stroke-width="0" />
<path d="M95.12,907.50 L101.88,900.65 L108.62,907.50 L101.88,914.35 Z" fill="#ed1c24"/>
<rect x="108.75" y="903.10" width="8.70" height="8.80" fill="#000" stroke="none" stroke-width="0" />
<path d="M117.58,907.50 L124.33,900.65 L131.07,907.50 L124.33,914.35 Z" fill="#ed1c24"/>
<rect x="131.20" y="903.10" width="8.70" height="8.80" fill="#000" stroke="none" stroke-width="0" />
<path d="M140.02,907.50 L146.77,900.65 L153.52,907.50 L146.77,914.35 Z" fill="#ed1c24"/>
<rect x="153.65" y="903.10" width="8.70" height="8.80" fill="#000" stroke="none" stroke-width="0" />
<text transform="translate(58.80,936.50) scale(1,1.05)" font-size="13.7" text-anchor="start" fill="#000" stroke="#000" stroke-width="0.3" font-weight="normal" font-style="normal" >CAG</text>
<text transform="translate(252.30,937.30) scale(1,1.05)" font-size="13.7" text-anchor="end" fill="#000" stroke="#000" stroke-width="0.3" font-weight="normal" font-style="normal" >Core</text>
<rect x="60.90" y="945.40" width="12.00" height="4.40" fill="#000" stroke="none" stroke-width="0" />
<path d="M69.30,938.30 L86.40,947.60 L69.30,956.90 Z" fill="#000"/>
<rect x="86.20" y="943.20" width="8.70" height="8.80" fill="#000" stroke="none" stroke-width="0" />
<path d="M95.04,947.60 L101.79,940.75 L108.54,947.60 L101.79,954.45 Z" fill="#ed1c24"/>
<rect x="108.67" y="943.20" width="8.70" height="8.80" fill="#000" stroke="none" stroke-width="0" />
<path d="M117.51,947.60 L124.26,940.75 L131.00,947.60 L124.26,954.45 Z" fill="#2e3192"/>
<rect x="131.14" y="943.20" width="8.70" height="8.80" fill="#000" stroke="none" stroke-width="0" />
<path d="M139.97,947.60 L146.72,940.75 L153.47,947.60 L146.72,954.45 Z" fill="#ed1c24"/>
<rect x="153.61" y="943.20" width="8.70" height="8.80" fill="#000" stroke="none" stroke-width="0" />
<path d="M162.44,947.60 L169.19,940.75 L175.94,947.60 L169.19,954.45 Z" fill="#2e3192"/>
<rect x="176.08" y="943.20" width="8.70" height="8.80" fill="#000" stroke="none" stroke-width="0" />
<path d="M184.91,947.60 L191.66,940.75 L198.41,947.60 L191.66,954.45 Z" fill="#f7941d"/>
<rect x="198.55" y="943.20" width="8.70" height="8.80" fill="#000" stroke="none" stroke-width="0" />
<path d="M207.38,947.60 L214.13,940.75 L220.88,947.60 L214.13,954.45 Z" fill="#ed1c24"/>
<rect x="221.02" y="943.20" width="8.70" height="8.80" fill="#000" stroke="none" stroke-width="0" />
<path d="M229.85,947.60 L236.60,940.75 L243.35,947.60 L236.60,954.45 Z" fill="#2e3192"/>
<rect x="243.49" y="943.20" width="8.70" height="8.80" fill="#000" stroke="none" stroke-width="0" />
<text transform="translate(273.70,896.10) scale(1,1.05)" font-size="13.7" text-anchor="start" fill="#000" stroke="#000" stroke-width="0.3" font-weight="normal" font-style="normal" >CAG</text>
<text transform="translate(466.40,898.30) scale(1,1.05)" font-size="13.7" text-anchor="end" fill="#000" stroke="#000" stroke-width="0.3" font-weight="normal" font-style="normal" >Accessory</text>
<rect x="275.80" y="905.40" width="12.00" height="4.40" fill="#000" stroke="none" stroke-width="0" />
<path d="M284.20,898.30 L301.30,907.60 L284.20,916.90 Z" fill="#000"/>
<rect x="300.70" y="903.20" width="8.70" height="8.80" fill="#000" stroke="none" stroke-width="0" />
<path d="M309.50,907.60 L316.25,900.75 L323.00,907.60 L316.25,914.45 Z" fill="#00a79d"/>
<rect x="323.09" y="903.20" width="8.70" height="8.80" fill="#000" stroke="none" stroke-width="0" />
<path d="M331.88,907.60 L338.63,900.75 L345.38,907.60 L338.63,914.45 Z" fill="#a67c52"/>
<rect x="345.48" y="903.20" width="8.70" height="8.80" fill="#000" stroke="none" stroke-width="0" />
<path d="M354.27,907.60 L361.02,900.75 L367.77,907.60 L361.02,914.45 Z" fill="#a67c52"/>
<rect x="367.87" y="903.20" width="8.70" height="8.80" fill="#000" stroke="none" stroke-width="0" />
<path d="M376.66,907.60 L383.41,900.75 L390.16,907.60 L383.41,914.45 Z" fill="#fd79a9"/>
<rect x="390.26" y="903.20" width="8.70" height="8.80" fill="#000" stroke="none" stroke-width="0" />
<path d="M399.05,907.60 L405.80,900.75 L412.55,907.60 L405.80,914.45 Z" fill="#fd79a9"/>
<rect x="412.65" y="903.20" width="8.70" height="8.80" fill="#000" stroke="none" stroke-width="0" />
<path d="M421.44,907.60 L428.19,900.75 L434.94,907.60 L428.19,914.45 Z" fill="#92278f"/>
<rect x="435.04" y="903.20" width="8.70" height="8.80" fill="#000" stroke="none" stroke-width="0" />
<path d="M443.83,907.60 L450.58,900.75 L457.33,907.60 L450.58,914.45 Z" fill="#92278f"/>
<rect x="457.43" y="903.20" width="8.70" height="8.80" fill="#000" stroke="none" stroke-width="0" />
<text transform="translate(273.70,937.50) scale(1,1.05)" font-size="13.7" text-anchor="start" fill="#000" stroke="#000" stroke-width="0.3" font-weight="normal" font-style="normal" >CAG</text>
<text transform="translate(625.80,939.60) scale(1,1.05)" font-size="13.7" text-anchor="end" fill="#000" stroke="#000" stroke-width="0.3" font-weight="normal" font-style="normal" >Core+Accessory</text>
<rect x="275.80" y="945.70" width="12.00" height="4.40" fill="#000" stroke="none" stroke-width="0" />
<path d="M284.20,938.60 L301.30,947.90 L284.20,957.20 Z" fill="#000"/>
<rect x="300.70" y="943.50" width="8.70" height="8.80" fill="#000" stroke="none" stroke-width="0" />
<path d="M309.57,947.90 L316.32,941.05 L323.07,947.90 L316.32,954.75 Z" fill="#ed1c24"/>
<rect x="323.24" y="943.50" width="8.70" height="8.80" fill="#000" stroke="none" stroke-width="0" />
<path d="M332.11,947.90 L338.86,941.05 L345.61,947.90 L338.86,954.75 Z" fill="#2e3192"/>
<rect x="345.78" y="943.50" width="8.70" height="8.80" fill="#000" stroke="none" stroke-width="0" />
<path d="M354.65,947.90 L361.40,941.05 L368.15,947.90 L361.40,954.75 Z" fill="#ed1c24"/>
<rect x="368.32" y="943.50" width="8.70" height="8.80" fill="#000" stroke="none" stroke-width="0" />
<path d="M377.19,947.90 L383.94,941.05 L390.69,947.90 L383.94,954.75 Z" fill="#2e3192"/>
<rect x="390.86" y="943.50" width="8.70" height="8.80" fill="#000" stroke="none" stroke-width="0" />
<path d="M399.73,947.90 L406.48,941.05 L413.23,947.90 L406.48,954.75 Z" fill="#f7941d"/>
<rect x="413.40" y="943.50" width="8.70" height="8.80" fill="#000" stroke="none" stroke-width="0" />
<path d="M422.27,947.90 L429.02,941.05 L435.77,947.90 L429.02,954.75 Z" fill="#ed1c24"/>
<rect x="435.94" y="943.50" width="8.70" height="8.80" fill="#000" stroke="none" stroke-width="0" />
<path d="M444.81,947.90 L451.56,941.05 L458.31,947.90 L451.56,954.75 Z" fill="#2e3192"/>
<rect x="458.48" y="943.50" width="8.70" height="8.80" fill="#000" stroke="none" stroke-width="0" />
<path d="M467.35,947.90 L474.10,941.05 L480.85,947.90 L474.10,954.75 Z" fill="#00a79d"/>
<rect x="481.02" y="943.50" width="8.70" height="8.80" fill="#000" stroke="none" stroke-width="0" />
<path d="M489.89,947.90 L496.64,941.05 L503.39,947.90 L496.64,954.75 Z" fill="#a67c52"/>
<rect x="503.56" y="943.50" width="8.70" height="8.80" fill="#000" stroke="none" stroke-width="0" />
<path d="M512.43,947.90 L519.18,941.05 L525.93,947.90 L519.18,954.75 Z" fill="#a67c52"/>
<rect x="526.10" y="943.50" width="8.70" height="8.80" fill="#000" stroke="none" stroke-width="0" />
<path d="M534.97,947.90 L541.72,941.05 L548.47,947.90 L541.72,954.75 Z" fill="#fd79a9"/>
<rect x="548.64" y="943.50" width="8.70" height="8.80" fill="#000" stroke="none" stroke-width="0" />
<path d="M557.51,947.90 L564.26,941.05 L571.01,947.90 L564.26,954.75 Z" fill="#fd79a9"/>
<rect x="571.18" y="943.50" width="8.70" height="8.80" fill="#000" stroke="none" stroke-width="0" />
<path d="M580.05,947.90 L586.80,941.05 L593.55,947.90 L586.80,954.75 Z" fill="#92278f"/>
<rect x="593.72" y="943.50" width="8.70" height="8.80" fill="#000" stroke="none" stroke-width="0" />
<path d="M602.59,947.90 L609.34,941.05 L616.09,947.90 L609.34,954.75 Z" fill="#92278f"/>
<rect x="616.26" y="943.50" width="8.70" height="8.80" fill="#000" stroke="none" stroke-width="0" />
<text transform="translate(1.00,983.30) scale(1,1.05)" font-size="22.5" text-anchor="start" fill="#000" stroke="#000" stroke-width="0.3" font-weight="bold" font-style="normal" >g</text>
<line x1="45.20" y1="1007.40" x2="45.20" y2="1175.00" stroke="#000" stroke-width="3.8" />
<line x1="43.30" y1="1173.00" x2="328.20" y2="1173.00" stroke="#000" stroke-width="4.2" />
<line x1="37.70" y1="1029.90" x2="43.30" y2="1029.90" stroke="#333333" stroke-width="3" />
<text transform="translate(31.10,1034.80) scale(1,1.05)" font-size="14" text-anchor="end" fill="#4d4d4d" stroke="#4d4d4d" stroke-width="0.3" font-weight="normal" font-style="normal" >4</text>
<line x1="37.70" y1="1065.30" x2="43.30" y2="1065.30" stroke="#333333" stroke-width="3" />
<text transform="translate(31.10,1070.20) scale(1,1.05)" font-size="14" text-anchor="end" fill="#4d4d4d" stroke="#4d4d4d" stroke-width="0.3" font-weight="normal" font-style="normal" >3</text>
<line x1="37.70" y1="1099.90" x2="43.30" y2="1099.90" stroke="#333333" stroke-width="3" />
<text transform="translate(31.10,1104.80) scale(1,1.05)" font-size="14" text-anchor="end" fill="#4d4d4d" stroke="#4d4d4d" stroke-width="0.3" font-weight="normal" font-style="normal" >2</text>
<line x1="37.70" y1="1135.20" x2="43.30" y2="1135.20" stroke="#333333" stroke-width="3" />
<text transform="translate(31.10,1140.10) scale(1,1.05)" font-size="14" text-anchor="end" fill="#4d4d4d" stroke="#4d4d4d" stroke-width="0.3" font-weight="normal" font-style="normal" >1</text>
<line x1="37.70" y1="1170.60" x2="43.30" y2="1170.60" stroke="#333333" stroke-width="3" />
<text transform="translate(31.10,1175.50) scale(1,1.05)" font-size="14" text-anchor="end" fill="#4d4d4d" stroke="#4d4d4d" stroke-width="0.3" font-weight="normal" font-style="normal" >0</text>
<line x1="66.50" y1="1175.10" x2="66.50" y2="1179.40" stroke="#333333" stroke-width="3" />
<text transform="translate(71.80,1189.00) rotate(-55) scale(1,1.05)" font-size="13.9" text-anchor="end" fill="#4d4d4d" stroke="#4d4d4d" stroke-width="0.3">3xNT</text>
<line x1="113.60" y1="1175.10" x2="113.60" y2="1179.40" stroke="#333333" stroke-width="3" />
<text transform="translate(118.90,1189.00) rotate(-55) scale(1,1.05)" font-size="13.9" text-anchor="end" fill="#4d4d4d" stroke="#4d4d4d" stroke-width="0.3">NGN3</text>
<line x1="160.80" y1="1175.10" x2="160.80" y2="1179.40" stroke="#333333" stroke-width="3" />
<text transform="translate(166.10,1189.00) rotate(-55) scale(1,1.05)" font-size="13.9" text-anchor="end" fill="#4d4d4d" stroke="#4d4d4d" stroke-width="0.3">10xNT</text>
<line x1="207.80" y1="1175.10" x2="207.80" y2="1179.40" stroke="#333333" stroke-width="3" />
<text transform="translate(213.10,1189.00) rotate(-55) scale(1,1.05)" font-size="13.9" text-anchor="end" fill="#4d4d4d" stroke="#4d4d4d" stroke-width="0.3">Accessory</text>
<line x1="254.60" y1="1175.10" x2="254.60" y2="1179.40" stroke="#333333" stroke-width="3" />
<text transform="translate(259.90,1189.00) rotate(-55) scale(1,1.05)" font-size="13.9" text-anchor="end" fill="#4d4d4d" stroke="#4d4d4d" stroke-width="0.3">Core</text>
<line x1="301.90" y1="1175.10" x2="301.90" y2="1179.40" stroke="#333333" stroke-width="3" />
<text transform="translate(307.20,1189.00) rotate(-55) scale(1,1.05)" font-size="13.9" text-anchor="end" fill="#4d4d4d" stroke="#4d4d4d" stroke-width="0.3">Core+Accessory</text>
<text transform="translate(13.90,1090.00) rotate(-90) scale(1,1.05)" font-size="15.5" text-anchor="middle" fill="#000" stroke="#000" stroke-width="0.3">%mCherry Positive</text>
<line x1="66.55" y1="1124.90" x2="66.55" y2="1131.30" stroke="#686868" stroke-width="1.75" />
<line x1="66.55" y1="1148.10" x2="66.55" y2="1156.00" stroke="#686868" stroke-width="1.75" />
<rect x="49.17" y="1132.17" width="34.75" height="15.05" fill="#fff" stroke="#686868" stroke-width="1.75" />
<line x1="49.17" y1="1139.10" x2="83.92" y2="1139.10" stroke="#686868" stroke-width="1.75" />
<ellipse cx="66.50" cy="1124.90" rx="2.35" ry="3.1" fill="#000"/>
<ellipse cx="66.50" cy="1139.10" rx="2.35" ry="3.1" fill="#000"/>
<ellipse cx="66.50" cy="1156.00" rx="2.35" ry="3.1" fill="#000"/>
<line x1="113.50" y1="1013.50" x2="113.50" y2="1016.00" stroke="#686868" stroke-width="1.75" />
<line x1="113.50" y1="1023.90" x2="113.50" y2="1025.50" stroke="#686868" stroke-width="1.75" />
<rect x="96.08" y="1016.88" width="34.85" height="6.15" fill="#fff" stroke="#686868" stroke-width="1.75" />
<line x1="96.08" y1="1020.00" x2="130.93" y2="1020.00" stroke="#686868" stroke-width="1.75" />
<ellipse cx="106.60" cy="1025.50" rx="2.35" ry="3.1" fill="#000"/>
<ellipse cx="113.40" cy="1013.50" rx="2.35" ry="3.1" fill="#000"/>
<ellipse cx="121.40" cy="1020.10" rx="2.35" ry="3.1" fill="#000"/>
<line x1="160.60" y1="1159.70" x2="160.60" y2="1161.30" stroke="#686868" stroke-width="1.75" />
<rect x="142.00" y="1161.30" width="37.20" height="4.20" fill="#686868" stroke="none" stroke-width="0" />
<rect x="143.75" y="1162.79" width="33.70" height="1.23" fill="#bbbbbb" stroke="none" stroke-width="0" />
<ellipse cx="152.50" cy="1165.00" rx="2.35" ry="3.1" fill="#000"/>
<ellipse cx="160.40" cy="1159.70" rx="2.35" ry="3.1" fill="#000"/>
<ellipse cx="169.60" cy="1164.20" rx="2.35" ry="3.1" fill="#000"/>
<line x1="207.70" y1="1146.80" x2="207.70" y2="1148.80" stroke="#686868" stroke-width="1.75" />
<rect x="189.30" y="1142.60" width="36.80" height="4.20" fill="#686868" stroke="none" stroke-width="0" />
<rect x="191.05" y="1144.09" width="33.30" height="1.23" fill="#bbbbbb" stroke="none" stroke-width="0" />
<ellipse cx="198.90" cy="1143.50" rx="2.35" ry="3.1" fill="#000"/>
<ellipse cx="207.70" cy="1148.80" rx="2.35" ry="3.1" fill="#000"/>
<ellipse cx="217.50" cy="1142.90" rx="2.35" ry="3.1" fill="#000"/>
<rect x="236.30" y="1124.10" width="37.10" height="3.70" fill="#686868" stroke="none" stroke-width="0" />
<ellipse cx="245.90" cy="1128.10" rx="2.35" ry="3.1" fill="#000"/>
<ellipse cx="254.70" cy="1123.90" rx="2.35" ry="3.1" fill="#000"/>
<ellipse cx="265.50" cy="1126.00" rx="2.35" ry="3.1" fill="#000"/>
<line x1="302.05" y1="1037.70" x2="302.05" y2="1047.20" stroke="#686868" stroke-width="1.75" />
<line x1="302.05" y1="1066.90" x2="302.05" y2="1075.20" stroke="#686868" stroke-width="1.75" />
<rect x="284.38" y="1048.08" width="35.35" height="17.95" fill="#fff" stroke="#686868" stroke-width="1.75" />
<line x1="284.38" y1="1057.70" x2="319.73" y2="1057.70" stroke="#686868" stroke-width="1.75" />
<ellipse cx="302.00" cy="1037.70" rx="2.35" ry="3.1" fill="#000"/>
<ellipse cx="302.00" cy="1057.70" rx="2.35" ry="3.1" fill="#000"/>
<ellipse cx="302.00" cy="1075.20" rx="2.35" ry="3.1" fill="#000"/>
<path d="M256.40,1018.20 L256.40,1012.00 L302.50,1012.00 L302.50,1018.20" fill="none" stroke="#222" stroke-width="1.3"/>
<path d="M276.50,1003.20 L277.24,1005.18 L279.35,1005.27 L277.70,1006.59 L278.26,1008.63 L276.50,1007.46 L274.74,1008.63 L275.30,1006.59 L273.65,1005.27 L275.76,1005.18 Z M282.30,1003.20 L283.04,1005.18 L285.15,1005.27 L283.50,1006.59 L284.06,1008.63 L282.30,1007.46 L280.54,1008.63 L281.10,1006.59 L279.45,1005.27 L281.56,1005.18 Z" fill="#111"/>
<text transform="translate(360.40,983.50) scale(1,1.05)" font-size="22.5" text-anchor="start" fill="#000" stroke="#000" stroke-width="0.3" font-weight="bold" font-style="normal" >h</text>
<line x1="418.40" y1="1005.40" x2="418.40" y2="1174.00" stroke="#000" stroke-width="3.8" />
<line x1="416.50" y1="1172.00" x2="594.00" y2="1172.00" stroke="#000" stroke-width="4.2" />
<line x1="412.20" y1="1023.40" x2="416.50" y2="1023.40" stroke="#333333" stroke-width="3" />
<text transform="translate(407.60,1028.30) scale(1,1.05)" font-size="14" text-anchor="end" fill="#4d4d4d" stroke="#4d4d4d" stroke-width="0.3" font-weight="normal" font-style="normal" >3000</text>
<line x1="412.20" y1="1068.30" x2="416.50" y2="1068.30" stroke="#333333" stroke-width="3" />
<text transform="translate(407.60,1073.20) scale(1,1.05)" font-size="14" text-anchor="end" fill="#4d4d4d" stroke="#4d4d4d" stroke-width="0.3" font-weight="normal" font-style="normal" >2500</text>
<line x1="412.20" y1="1113.60" x2="416.50" y2="1113.60" stroke="#333333" stroke-width="3" />
<text transform="translate(407.60,1118.50) scale(1,1.05)" font-size="14" text-anchor="end" fill="#4d4d4d" stroke="#4d4d4d" stroke-width="0.3" font-weight="normal" font-style="normal" >2000</text>
<line x1="412.20" y1="1159.20" x2="416.50" y2="1159.20" stroke="#333333" stroke-width="3" />
<text transform="translate(407.60,1164.10) scale(1,1.05)" font-size="14" text-anchor="end" fill="#4d4d4d" stroke="#4d4d4d" stroke-width="0.3" font-weight="normal" font-style="normal" >1500</text>
<line x1="442.00" y1="1174.10" x2="442.00" y2="1178.40" stroke="#333333" stroke-width="3" />
<text transform="translate(447.20,1186.00) rotate(-59.5) scale(1,1.05)" font-size="13.9" text-anchor="end" fill="#4d4d4d" stroke="#4d4d4d" stroke-width="0.3">NGN3</text>
<line x1="494.60" y1="1174.10" x2="494.60" y2="1178.40" stroke="#333333" stroke-width="3" />
<text transform="translate(499.80,1186.00) rotate(-59.5) scale(1,1.05)" font-size="13.9" text-anchor="end" fill="#4d4d4d" stroke="#4d4d4d" stroke-width="0.3">Core</text>
<line x1="546.70" y1="1174.10" x2="546.70" y2="1178.40" stroke="#333333" stroke-width="3" />
<text transform="translate(551.90,1186.00) rotate(-59.5) scale(1,1.05)" font-size="13.9" text-anchor="end" fill="#4d4d4d" stroke="#4d4d4d" stroke-width="0.3">Core+Accessory</text>
<text transform="translate(369.30,1089.30) rotate(-90) scale(1,1.05)" font-size="13.7" text-anchor="middle" fill="#000" stroke="#000" stroke-width="0.3">mCherry Positive MFI</text>
<rect x="424.10" y="1159.40" width="36.60" height="3.00" fill="#686868" stroke="none" stroke-width="0" />
<circle cx="431.50" cy="1160.50" r="2.4" fill="#000" />
<circle cx="442.00" cy="1158.90" r="2.4" fill="#000" />
<circle cx="453.30" cy="1162.40" r="2.4" fill="#000" />
<line x1="494.65" y1="1124.30" x2="494.65" y2="1128.00" stroke="#686868" stroke-width="1.9" />
<line x1="494.65" y1="1137.60" x2="494.65" y2="1140.50" stroke="#686868" stroke-width="1.9" />
<rect x="477.15" y="1128.95" width="35.00" height="7.70" fill="#fff" stroke="#686868" stroke-width="1.9" />
<line x1="477.15" y1="1133.60" x2="512.15" y2="1133.60" stroke="#686868" stroke-width="1.9" />
<circle cx="494.50" cy="1124.30" r="2.4" fill="#000" />
<circle cx="494.50" cy="1133.60" r="2.4" fill="#000" />
<circle cx="494.50" cy="1140.50" r="2.4" fill="#000" />
<line x1="547.00" y1="1028.20" x2="547.00" y2="1028.90" stroke="#686868" stroke-width="1.9" />
<line x1="547.00" y1="1039.60" x2="547.00" y2="1046.60" stroke="#686868" stroke-width="1.9" />
<rect x="529.65" y="1029.85" width="34.70" height="8.80" fill="#fff" stroke="#686868" stroke-width="1.9" />
<line x1="529.65" y1="1031.30" x2="564.35" y2="1031.30" stroke="#686868" stroke-width="1.9" />
<circle cx="537.80" cy="1030.60" r="2.4" fill="#000" />
<circle cx="554.50" cy="1028.20" r="2.4" fill="#000" />
<circle cx="546.60" cy="1046.60" r="2.4" fill="#000" />
<path d="M499.30,1017.20 L499.30,1011.40 L545.20,1011.40 L545.20,1017.20" fill="none" stroke="#222" stroke-width="1.3"/>
<path d="M519.10,1002.30 L519.84,1004.28 L521.95,1004.37 L520.30,1005.69 L520.86,1007.73 L519.10,1006.56 L517.34,1007.73 L517.90,1005.69 L516.25,1004.37 L518.36,1004.28 Z M524.90,1002.30 L525.64,1004.28 L527.75,1004.37 L526.10,1005.69 L526.66,1007.73 L524.90,1006.56 L523.14,1007.73 L523.70,1005.69 L522.05,1004.37 L524.16,1004.28 Z" fill="#111"/>
</svg>
</body></html>
